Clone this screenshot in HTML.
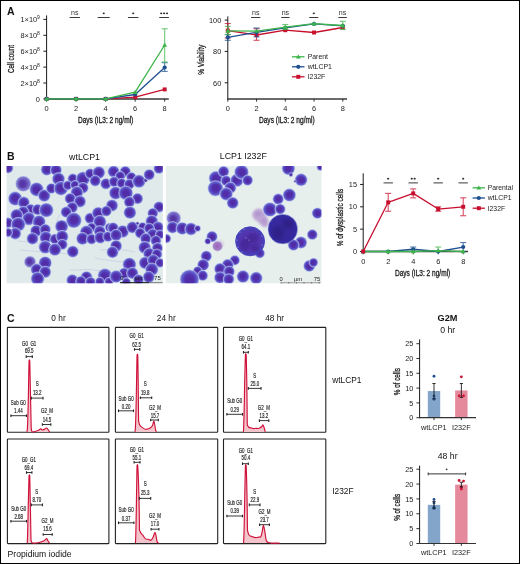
<!DOCTYPE html>
<html><head><meta charset="utf-8"><style>
html,body{margin:0;padding:0;background:#fff;}
body{width:520px;height:564px;overflow:hidden;}
svg{display:block;font-family:"Liberation Sans", sans-serif;will-change:transform;}
</style></head><body>
<svg width="520" height="564" viewBox="0 0 520 564">
<rect x="0" y="0" width="520" height="564" fill="#fff"/>
<text x="6.90" y="14.60" font-size="10.5" text-anchor="start" fill="#111" font-weight="bold" >A</text>
<line x1="46.60" y1="15.40" x2="46.60" y2="99.50" stroke="#1a1a1a" stroke-width="1.0" />
<line x1="43.40" y1="98.90" x2="46.60" y2="98.90" stroke="#1a1a1a" stroke-width="1" />
<text x="39.90" y="101.60" font-size="7.4" text-anchor="end" fill="#222" >0</text>
<line x1="43.40" y1="83.00" x2="46.60" y2="83.00" stroke="#1a1a1a" stroke-width="1" />
<text x="39.9" y="85.70" font-size="7.4" text-anchor="end" fill="#222">2×10<tspan dy="-3.2" font-size="5">8</tspan></text>
<line x1="43.40" y1="67.10" x2="46.60" y2="67.10" stroke="#1a1a1a" stroke-width="1" />
<text x="39.9" y="69.80" font-size="7.4" text-anchor="end" fill="#222">4×10<tspan dy="-3.2" font-size="5">8</tspan></text>
<line x1="43.40" y1="51.20" x2="46.60" y2="51.20" stroke="#1a1a1a" stroke-width="1" />
<text x="39.9" y="53.90" font-size="7.4" text-anchor="end" fill="#222">6×10<tspan dy="-3.2" font-size="5">8</tspan></text>
<line x1="43.40" y1="35.30" x2="46.60" y2="35.30" stroke="#1a1a1a" stroke-width="1" />
<text x="39.9" y="38.00" font-size="7.4" text-anchor="end" fill="#222">8×10<tspan dy="-3.2" font-size="5">8</tspan></text>
<line x1="43.40" y1="19.40" x2="46.60" y2="19.40" stroke="#1a1a1a" stroke-width="1" />
<text x="39.9" y="22.10" font-size="7.4" text-anchor="end" fill="#222">1×10<tspan dy="-3.2" font-size="5">9</tspan></text>
<line x1="46.10" y1="98.90" x2="168.80" y2="98.90" stroke="#3a3a3a" stroke-width="1.5" />
<line x1="46.60" y1="98.90" x2="46.60" y2="101.70" stroke="#222" stroke-width="0.9" />
<text x="46.60" y="110.60" font-size="7.4" text-anchor="middle" fill="#222" >0</text>
<line x1="76.12" y1="98.90" x2="76.12" y2="101.70" stroke="#222" stroke-width="0.9" />
<text x="76.12" y="110.60" font-size="7.4" text-anchor="middle" fill="#222" >2</text>
<line x1="105.64" y1="98.90" x2="105.64" y2="101.70" stroke="#222" stroke-width="0.9" />
<text x="105.64" y="110.60" font-size="7.4" text-anchor="middle" fill="#222" >4</text>
<line x1="135.16" y1="98.90" x2="135.16" y2="101.70" stroke="#222" stroke-width="0.9" />
<text x="135.16" y="110.60" font-size="7.4" text-anchor="middle" fill="#222" >6</text>
<line x1="164.68" y1="98.90" x2="164.68" y2="101.70" stroke="#222" stroke-width="0.9" />
<text x="164.68" y="110.60" font-size="7.4" text-anchor="middle" fill="#222" >8</text>
<text x="105.60" y="123.20" font-size="8.6" text-anchor="middle" fill="#1a1a1a" textLength="55.4" lengthAdjust="spacingAndGlyphs" stroke="#1a1a1a" stroke-width="0.3">Days (IL3: 2 ng/ml)</text>
<text x="13.8" y="59" font-size="9.2" text-anchor="middle" fill="#1a1a1a" stroke="#1a1a1a" stroke-width="0.3" textLength="28" lengthAdjust="spacingAndGlyphs" transform="rotate(-90 13.8 59)">Cell count</text>
<polyline points="46.60,98.90 76.12,98.90 105.64,98.90 135.16,97.20 164.68,89.40" fill="none" stroke="#c8102e" stroke-width="1.3" stroke-linejoin="round"/>
<rect x="44.62" y="96.92" width="3.96" height="3.96" fill="#c8102e"/>
<rect x="74.14" y="96.92" width="3.96" height="3.96" fill="#c8102e"/>
<rect x="103.66" y="96.92" width="3.96" height="3.96" fill="#c8102e"/>
<rect x="133.18" y="95.22" width="3.96" height="3.96" fill="#c8102e"/>
<rect x="162.70" y="87.42" width="3.96" height="3.96" fill="#c8102e"/>
<polyline points="46.60,98.90 76.12,98.90 105.64,98.90 135.16,94.50 164.68,67.50" fill="none" stroke="#1d4f91" stroke-width="1.3" stroke-linejoin="round"/>
<g opacity="0.75">
<line x1="164.68" y1="62.70" x2="164.68" y2="71.40" stroke="#1d4f91" stroke-width="1.1" />
<line x1="161.68" y1="62.70" x2="167.68" y2="62.70" stroke="#1d4f91" stroke-width="1.1" />
<line x1="161.68" y1="71.40" x2="167.68" y2="71.40" stroke="#1d4f91" stroke-width="1.1" />
</g>
<circle cx="46.60" cy="98.90" r="2.09" fill="#1d4f91"/>
<circle cx="76.12" cy="98.90" r="2.09" fill="#1d4f91"/>
<circle cx="105.64" cy="98.90" r="2.09" fill="#1d4f91"/>
<circle cx="135.16" cy="94.50" r="2.09" fill="#1d4f91"/>
<circle cx="164.68" cy="67.50" r="2.09" fill="#1d4f91"/>
<polyline points="46.60,98.90 76.12,98.90 105.64,98.90 135.16,92.20 164.68,45.00" fill="none" stroke="#3db54a" stroke-width="1.3" stroke-linejoin="round"/>
<g opacity="0.75">
<line x1="164.68" y1="28.80" x2="164.68" y2="62.00" stroke="#3db54a" stroke-width="1.1" />
<line x1="161.68" y1="28.80" x2="167.68" y2="28.80" stroke="#3db54a" stroke-width="1.1" />
<line x1="161.68" y1="62.00" x2="167.68" y2="62.00" stroke="#3db54a" stroke-width="1.1" />
</g>
<path d="M46.60 96.48L49.02 100.66L44.18 100.66Z" fill="#3db54a"/>
<path d="M76.12 96.48L78.54 100.66L73.70 100.66Z" fill="#3db54a"/>
<path d="M105.64 96.48L108.06 100.66L103.22 100.66Z" fill="#3db54a"/>
<path d="M135.16 89.78L137.58 93.96L132.74 93.96Z" fill="#3db54a"/>
<path d="M164.68 42.58L167.10 46.76L162.26 46.76Z" fill="#3db54a"/>
<line x1="69.60" y1="17.50" x2="79.90" y2="17.50" stroke="#3a3a3a" stroke-width="1" />
<text x="74.75" y="14.50" font-size="7.1" text-anchor="middle" fill="#333" >ns</text>
<line x1="97.70" y1="17.50" x2="109.70" y2="17.50" stroke="#3a3a3a" stroke-width="1" />
<ellipse cx="103.70" cy="13.30" rx="1.1" ry="0.85" fill="#2a2a2a"/>
<line x1="127.95" y1="17.50" x2="138.45" y2="17.50" stroke="#3a3a3a" stroke-width="1" />
<ellipse cx="133.20" cy="13.30" rx="1.1" ry="0.85" fill="#2a2a2a"/>
<line x1="159.25" y1="17.50" x2="168.95" y2="17.50" stroke="#3a3a3a" stroke-width="1" />
<ellipse cx="161.20" cy="13.30" rx="1.1" ry="0.85" fill="#2a2a2a"/>
<ellipse cx="164.10" cy="13.30" rx="1.1" ry="0.85" fill="#2a2a2a"/>
<ellipse cx="167.00" cy="13.30" rx="1.1" ry="0.85" fill="#2a2a2a"/>
<line x1="227.80" y1="16.40" x2="227.80" y2="99.50" stroke="#1a1a1a" stroke-width="1.0" />
<line x1="224.70" y1="20.10" x2="227.80" y2="20.10" stroke="#1a1a1a" stroke-width="1" />
<text x="221.30" y="22.80" font-size="7.4" text-anchor="end" fill="#222" >100</text>
<line x1="224.70" y1="51.45" x2="227.80" y2="51.45" stroke="#1a1a1a" stroke-width="1" />
<text x="221.30" y="54.15" font-size="7.4" text-anchor="end" fill="#222" >80</text>
<line x1="224.70" y1="82.80" x2="227.80" y2="82.80" stroke="#1a1a1a" stroke-width="1" />
<text x="221.30" y="85.50" font-size="7.4" text-anchor="end" fill="#222" >60</text>
<line x1="227.30" y1="98.90" x2="347.00" y2="98.90" stroke="#3a3a3a" stroke-width="1.5" />
<line x1="227.80" y1="98.90" x2="227.80" y2="101.70" stroke="#222" stroke-width="0.9" />
<text x="227.80" y="110.60" font-size="7.4" text-anchor="middle" fill="#222" >0</text>
<line x1="256.55" y1="98.90" x2="256.55" y2="101.70" stroke="#222" stroke-width="0.9" />
<text x="256.55" y="110.60" font-size="7.4" text-anchor="middle" fill="#222" >2</text>
<line x1="285.30" y1="98.90" x2="285.30" y2="101.70" stroke="#222" stroke-width="0.9" />
<text x="285.30" y="110.60" font-size="7.4" text-anchor="middle" fill="#222" >4</text>
<line x1="314.05" y1="98.90" x2="314.05" y2="101.70" stroke="#222" stroke-width="0.9" />
<text x="314.05" y="110.60" font-size="7.4" text-anchor="middle" fill="#222" >6</text>
<line x1="342.80" y1="98.90" x2="342.80" y2="101.70" stroke="#222" stroke-width="0.9" />
<text x="342.80" y="110.60" font-size="7.4" text-anchor="middle" fill="#222" >8</text>
<text x="286.80" y="123.20" font-size="8.6" text-anchor="middle" fill="#1a1a1a" textLength="55.7" lengthAdjust="spacingAndGlyphs" stroke="#1a1a1a" stroke-width="0.3">Days (IL3: 2 ng/ml)</text>
<text x="203.6" y="59.7" font-size="9.2" text-anchor="middle" fill="#1a1a1a" stroke="#1a1a1a" stroke-width="0.3" textLength="30" lengthAdjust="spacingAndGlyphs" transform="rotate(-90 203.6 59.7)">% Viability</text>
<polyline points="227.80,30.60 256.55,35.00 285.30,30.20 314.05,32.50 342.80,27.50" fill="none" stroke="#c8102e" stroke-width="1.3" stroke-linejoin="round"/>
<g opacity="0.75">
<line x1="227.80" y1="23.50" x2="227.80" y2="38.00" stroke="#c8102e" stroke-width="1.1" />
<line x1="224.80" y1="23.50" x2="230.80" y2="23.50" stroke="#c8102e" stroke-width="1.1" />
<line x1="224.80" y1="38.00" x2="230.80" y2="38.00" stroke="#c8102e" stroke-width="1.1" />
</g>
<g opacity="0.75">
<line x1="256.55" y1="28.80" x2="256.55" y2="40.30" stroke="#c8102e" stroke-width="1.1" />
<line x1="253.55" y1="28.80" x2="259.55" y2="28.80" stroke="#c8102e" stroke-width="1.1" />
<line x1="253.55" y1="40.30" x2="259.55" y2="40.30" stroke="#c8102e" stroke-width="1.1" />
</g>
<rect x="225.82" y="28.62" width="3.96" height="3.96" fill="#c8102e"/>
<rect x="254.57" y="33.02" width="3.96" height="3.96" fill="#c8102e"/>
<rect x="283.32" y="28.22" width="3.96" height="3.96" fill="#c8102e"/>
<rect x="312.07" y="30.52" width="3.96" height="3.96" fill="#c8102e"/>
<rect x="340.82" y="25.52" width="3.96" height="3.96" fill="#c8102e"/>
<polyline points="227.80,37.30 256.55,32.30 285.30,27.80 314.05,23.90 342.80,25.80" fill="none" stroke="#1d4f91" stroke-width="1.3" stroke-linejoin="round"/>
<g opacity="0.75">
<line x1="227.80" y1="34.60" x2="227.80" y2="40.30" stroke="#1d4f91" stroke-width="1.1" />
<line x1="224.80" y1="34.60" x2="230.80" y2="34.60" stroke="#1d4f91" stroke-width="1.1" />
<line x1="224.80" y1="40.30" x2="230.80" y2="40.30" stroke="#1d4f91" stroke-width="1.1" />
</g>
<g opacity="0.75">
<line x1="256.55" y1="28.00" x2="256.55" y2="36.90" stroke="#1d4f91" stroke-width="1.1" />
<line x1="253.55" y1="28.00" x2="259.55" y2="28.00" stroke="#1d4f91" stroke-width="1.1" />
<line x1="253.55" y1="36.90" x2="259.55" y2="36.90" stroke="#1d4f91" stroke-width="1.1" />
</g>
<circle cx="227.80" cy="37.30" r="2.09" fill="#1d4f91"/>
<circle cx="256.55" cy="32.30" r="2.09" fill="#1d4f91"/>
<circle cx="285.30" cy="27.80" r="2.09" fill="#1d4f91"/>
<circle cx="314.05" cy="23.90" r="2.09" fill="#1d4f91"/>
<circle cx="342.80" cy="25.80" r="2.09" fill="#1d4f91"/>
<polyline points="227.80,30.90 256.55,31.10 285.30,27.20 314.05,23.70 342.80,25.50" fill="none" stroke="#3db54a" stroke-width="1.3" stroke-linejoin="round"/>
<g opacity="0.75">
<line x1="227.80" y1="26.40" x2="227.80" y2="34.40" stroke="#3db54a" stroke-width="1.1" />
<line x1="224.80" y1="26.40" x2="230.80" y2="26.40" stroke="#3db54a" stroke-width="1.1" />
<line x1="224.80" y1="34.40" x2="230.80" y2="34.40" stroke="#3db54a" stroke-width="1.1" />
</g>
<g opacity="0.75">
<line x1="285.30" y1="24.50" x2="285.30" y2="29.50" stroke="#3db54a" stroke-width="1.1" />
<line x1="282.30" y1="24.50" x2="288.30" y2="24.50" stroke="#3db54a" stroke-width="1.1" />
<line x1="282.30" y1="29.50" x2="288.30" y2="29.50" stroke="#3db54a" stroke-width="1.1" />
</g>
<g opacity="0.75">
<line x1="342.80" y1="21.30" x2="342.80" y2="29.50" stroke="#3db54a" stroke-width="1.1" />
<line x1="339.80" y1="21.30" x2="345.80" y2="21.30" stroke="#3db54a" stroke-width="1.1" />
<line x1="339.80" y1="29.50" x2="345.80" y2="29.50" stroke="#3db54a" stroke-width="1.1" />
</g>
<path d="M227.80 28.48L230.22 32.66L225.38 32.66Z" fill="#3db54a"/>
<path d="M256.55 28.68L258.97 32.86L254.13 32.86Z" fill="#3db54a"/>
<path d="M285.30 24.78L287.72 28.96L282.88 28.96Z" fill="#3db54a"/>
<path d="M314.05 21.28L316.47 25.46L311.63 25.46Z" fill="#3db54a"/>
<path d="M342.80 23.08L345.22 27.26L340.38 27.26Z" fill="#3db54a"/>
<line x1="251.05" y1="17.50" x2="260.35" y2="17.50" stroke="#3a3a3a" stroke-width="1" />
<text x="255.70" y="14.50" font-size="7.1" text-anchor="middle" fill="#333" >ns</text>
<line x1="281.25" y1="17.50" x2="289.55" y2="17.50" stroke="#3a3a3a" stroke-width="1" />
<text x="285.40" y="14.50" font-size="7.1" text-anchor="middle" fill="#333" >ns</text>
<line x1="309.30" y1="17.50" x2="318.30" y2="17.50" stroke="#3a3a3a" stroke-width="1" />
<ellipse cx="313.80" cy="13.30" rx="1.1" ry="0.85" fill="#2a2a2a"/>
<line x1="338.35" y1="17.50" x2="346.85" y2="17.50" stroke="#3a3a3a" stroke-width="1" />
<text x="342.60" y="14.50" font-size="7.1" text-anchor="middle" fill="#333" >ns</text>
<line x1="292.00" y1="56.80" x2="304.50" y2="56.80" stroke="#3db54a" stroke-width="1.3" />
<path d="M298.30 54.38L300.72 58.56L295.88 58.56Z" fill="#3db54a"/>
<text x="307.70" y="59.10" font-size="6.9" text-anchor="start" fill="#222" >Parent</text>
<line x1="292.00" y1="66.80" x2="304.50" y2="66.80" stroke="#1d4f91" stroke-width="1.3" />
<circle cx="298.30" cy="66.80" r="2.09" fill="#1d4f91"/>
<text x="307.70" y="69.10" font-size="6.9" text-anchor="start" fill="#222" >wtLCP1</text>
<line x1="292.00" y1="76.80" x2="304.50" y2="76.80" stroke="#c8102e" stroke-width="1.3" />
<rect x="296.32" y="74.82" width="3.96" height="3.96" fill="#c8102e"/>
<text x="307.70" y="79.10" font-size="6.9" text-anchor="start" fill="#222" >I232F</text>
<text x="7.00" y="160.40" font-size="10.5" text-anchor="start" fill="#111" font-weight="bold" >B</text>
<text x="84.50" y="160.10" font-size="8.8" text-anchor="middle" fill="#111" >wtLCP1</text>
<text x="243.30" y="159.20" font-size="8.8" text-anchor="middle" fill="#111" >LCP1 I232F</text>
<defs><radialGradient id="gc"><stop offset="0" stop-color="#5630b2"/><stop offset="0.5" stop-color="#5534b2"/><stop offset="0.76" stop-color="#5a56c8"/><stop offset="1" stop-color="#8a92e0"/></radialGradient><radialGradient id="gl"><stop offset="0" stop-color="#5a3cac"/><stop offset="0.45" stop-color="#6448b6"/><stop offset="0.8" stop-color="#7a74cc"/><stop offset="1" stop-color="#9a9ade"/></radialGradient><radialGradient id="gp"><stop offset="0" stop-color="#9a62b8"/><stop offset="1" stop-color="#a888c8"/></radialGradient><radialGradient id="gd"><stop offset="0" stop-color="#4a34a8"/><stop offset="1" stop-color="#5a4ab8"/></radialGradient><radialGradient id="gbA"><stop offset="0" stop-color="#5030a6"/><stop offset="0.6" stop-color="#5434ae"/><stop offset="0.88" stop-color="#4a3cb4"/><stop offset="1" stop-color="#4848c4"/></radialGradient><radialGradient id="gbB"><stop offset="0" stop-color="#38289a"/><stop offset="0.85" stop-color="#36289e"/><stop offset="1" stop-color="#3434ac"/></radialGradient><radialGradient id="gsm"><stop offset="0" stop-color="#b288c8" stop-opacity="0.95"/><stop offset="0.6" stop-color="#c4a4d4" stop-opacity="0.7"/><stop offset="1" stop-color="#d8c8e0" stop-opacity="0"/></radialGradient><filter id="blr" x="-30%" y="-30%" width="160%" height="160%"><feGaussianBlur stdDeviation="1.2"/></filter><clipPath id="c1"><rect x="6.6" y="166" width="156.3" height="117.2"/></clipPath><clipPath id="c2"><rect x="165.8" y="166" width="155.7" height="117.2"/></clipPath></defs>
<rect x="6.6" y="166" width="156.3" height="117.2" fill="#e0eaea"/>
<g clip-path="url(#c1)">
<path d="M18 241 Q40 243 60 246 M20 250 Q45 252 70 254 M60 214 Q55 222 57 230 M100 250 Q120 248 135 252 M95 258 Q115 262 130 262 M70 270 Q90 268 108 272" stroke="#b8bfe0" stroke-width="0.5" fill="none"/>
<circle cx="8" cy="168" r="5.25" fill="url(#gc)" stroke="#d4dcef" stroke-width="0.5"/>
<ellipse cx="8.88" cy="168.34" rx="2.73" ry="2.36" transform="rotate(11 8.88 168.34)" fill="#4a2496" opacity="0.35"/>
<circle cx="46.8" cy="169.6" r="5.88" fill="url(#gc)" stroke="#d4dcef" stroke-width="0.5"/>
<ellipse cx="47.86" cy="169.60" rx="3.06" ry="2.64" transform="rotate(0 47.86 169.60)" fill="#4a2496" opacity="0.35"/>
<circle cx="56" cy="170" r="5.75" fill="url(#gc)" stroke="#d4dcef" stroke-width="0.5"/>
<ellipse cx="57.03" cy="170.00" rx="2.99" ry="2.59" transform="rotate(0 57.03 170.00)" fill="#4a2496" opacity="0.35"/>
<circle cx="58.5" cy="179" r="6.38" fill="url(#gc)" stroke="#d4dcef" stroke-width="0.5"/>
<ellipse cx="58.19" cy="177.90" rx="3.31" ry="2.87" transform="rotate(127 58.19 177.90)" fill="#4a2496" opacity="0.35"/>
<circle cx="23.3" cy="183.8" r="7.75" fill="url(#gl)" stroke="#d4dcef" stroke-width="0.5"/>
<ellipse cx="21.93" cy="184.06" rx="4.03" ry="3.49" transform="rotate(85 21.93 184.06)" fill="#4a2496" opacity="0.35"/>
<circle cx="36.6" cy="189.4" r="7.00" fill="url(#gc)" stroke="#d4dcef" stroke-width="0.5"/>
<ellipse cx="36.72" cy="190.65" rx="3.64" ry="3.15" transform="rotate(42 36.72 190.65)" fill="#4a2496" opacity="0.35"/>
<circle cx="44.2" cy="195.6" r="6.12" fill="url(#gc)" stroke="#d4dcef" stroke-width="0.5"/>
<ellipse cx="43.54" cy="194.72" rx="3.19" ry="2.76" transform="rotate(116 43.54 194.72)" fill="#4a2496" opacity="0.35"/>
<circle cx="51.4" cy="188.4" r="5.25" fill="url(#gc)" stroke="#d4dcef" stroke-width="0.5"/>
<ellipse cx="50.60" cy="188.90" rx="2.73" ry="2.36" transform="rotate(74 50.60 188.90)" fill="#4a2496" opacity="0.35"/>
<circle cx="15.2" cy="198.6" r="7.00" fill="url(#gc)" stroke="#d4dcef" stroke-width="0.5"/>
<ellipse cx="14.86" cy="197.39" rx="3.64" ry="3.15" transform="rotate(127 14.86 197.39)" fill="#4a2496" opacity="0.35"/>
<circle cx="23.8" cy="202.5" r="5.88" fill="url(#gc)" stroke="#d4dcef" stroke-width="0.5"/>
<ellipse cx="24.58" cy="203.21" rx="3.06" ry="2.64" transform="rotate(21 24.58 203.21)" fill="#4a2496" opacity="0.35"/>
<circle cx="61" cy="188.4" r="7.00" fill="url(#gc)" stroke="#d4dcef" stroke-width="0.5"/>
<ellipse cx="59.76" cy="188.17" rx="3.64" ry="3.15" transform="rotate(95 59.76 188.17)" fill="#4a2496" opacity="0.35"/>
<circle cx="72.8" cy="178.7" r="5.12" fill="url(#gc)" stroke="#d4dcef" stroke-width="0.5"/>
<ellipse cx="73.21" cy="177.87" rx="2.67" ry="2.31" transform="rotate(148 73.21 177.87)" fill="#4a2496" opacity="0.35"/>
<circle cx="83" cy="178.7" r="7.00" fill="url(#gc)" stroke="#d4dcef" stroke-width="0.5"/>
<ellipse cx="83.56" cy="179.83" rx="3.64" ry="3.15" transform="rotate(32 83.56 179.83)" fill="#4a2496" opacity="0.35"/>
<circle cx="90.1" cy="173.6" r="5.12" fill="url(#gc)" stroke="#d4dcef" stroke-width="0.5"/>
<ellipse cx="89.85" cy="174.49" rx="2.67" ry="2.31" transform="rotate(53 89.85 174.49)" fill="#4a2496" opacity="0.35"/>
<circle cx="98.8" cy="172.6" r="6.25" fill="url(#gc)" stroke="#d4dcef" stroke-width="0.5"/>
<ellipse cx="99.63" cy="171.84" rx="3.25" ry="2.81" transform="rotate(159 99.63 171.84)" fill="#4a2496" opacity="0.35"/>
<circle cx="95.2" cy="180.8" r="5.50" fill="url(#gc)" stroke="#d4dcef" stroke-width="0.5"/>
<ellipse cx="95.64" cy="179.91" rx="2.86" ry="2.48" transform="rotate(148 95.64 179.91)" fill="#4a2496" opacity="0.35"/>
<circle cx="105.9" cy="183.8" r="5.50" fill="url(#gc)" stroke="#d4dcef" stroke-width="0.5"/>
<ellipse cx="106.82" cy="183.44" rx="2.86" ry="2.48" transform="rotate(169 106.82 183.44)" fill="#4a2496" opacity="0.35"/>
<circle cx="67.7" cy="185.4" r="4.75" fill="url(#gc)" stroke="#d4dcef" stroke-width="0.5"/>
<ellipse cx="68.08" cy="184.63" rx="2.47" ry="2.14" transform="rotate(148 68.08 184.63)" fill="#4a2496" opacity="0.35"/>
<circle cx="74.8" cy="184.9" r="4.38" fill="url(#gc)" stroke="#d4dcef" stroke-width="0.5"/>
<ellipse cx="75.15" cy="184.20" rx="2.27" ry="1.97" transform="rotate(148 75.15 184.20)" fill="#4a2496" opacity="0.35"/>
<circle cx="83" cy="187.9" r="5.50" fill="url(#gc)" stroke="#d4dcef" stroke-width="0.5"/>
<ellipse cx="83.73" cy="187.23" rx="2.86" ry="2.48" transform="rotate(159 83.73 187.23)" fill="#4a2496" opacity="0.35"/>
<circle cx="76.9" cy="192.5" r="6.25" fill="url(#gc)" stroke="#d4dcef" stroke-width="0.5"/>
<ellipse cx="77.73" cy="193.26" rx="3.25" ry="2.81" transform="rotate(21 77.73 193.26)" fill="#4a2496" opacity="0.35"/>
<circle cx="70.2" cy="198.6" r="5.50" fill="url(#gc)" stroke="#d4dcef" stroke-width="0.5"/>
<ellipse cx="69.60" cy="199.39" rx="2.86" ry="2.48" transform="rotate(64 69.60 199.39)" fill="#4a2496" opacity="0.35"/>
<circle cx="80" cy="201.5" r="5.88" fill="url(#gc)" stroke="#d4dcef" stroke-width="0.5"/>
<ellipse cx="80.99" cy="201.88" rx="3.06" ry="2.64" transform="rotate(11 80.99 201.88)" fill="#4a2496" opacity="0.35"/>
<circle cx="113.6" cy="171.6" r="5.88" fill="url(#gc)" stroke="#d4dcef" stroke-width="0.5"/>
<ellipse cx="114.59" cy="171.98" rx="3.06" ry="2.64" transform="rotate(11 114.59 171.98)" fill="#4a2496" opacity="0.35"/>
<circle cx="125.3" cy="171.6" r="5.50" fill="url(#gc)" stroke="#d4dcef" stroke-width="0.5"/>
<ellipse cx="126.22" cy="171.96" rx="2.86" ry="2.48" transform="rotate(11 126.22 171.96)" fill="#4a2496" opacity="0.35"/>
<circle cx="120.2" cy="176.2" r="5.00" fill="url(#gc)" stroke="#d4dcef" stroke-width="0.5"/>
<ellipse cx="119.95" cy="175.33" rx="2.60" ry="2.25" transform="rotate(127 119.95 175.33)" fill="#4a2496" opacity="0.35"/>
<circle cx="114.1" cy="181.8" r="5.25" fill="url(#gc)" stroke="#d4dcef" stroke-width="0.5"/>
<ellipse cx="114.80" cy="182.44" rx="2.73" ry="2.36" transform="rotate(21 114.80 182.44)" fill="#4a2496" opacity="0.35"/>
<circle cx="121.7" cy="183.3" r="5.00" fill="url(#gc)" stroke="#d4dcef" stroke-width="0.5"/>
<ellipse cx="121.16" cy="182.58" rx="2.60" ry="2.25" transform="rotate(116 121.16 182.58)" fill="#4a2496" opacity="0.35"/>
<circle cx="131.4" cy="177.2" r="5.00" fill="url(#gc)" stroke="#d4dcef" stroke-width="0.5"/>
<ellipse cx="131.15" cy="176.33" rx="2.60" ry="2.25" transform="rotate(127 131.15 176.33)" fill="#4a2496" opacity="0.35"/>
<circle cx="129.4" cy="184.3" r="5.25" fill="url(#gc)" stroke="#d4dcef" stroke-width="0.5"/>
<ellipse cx="130.10" cy="184.94" rx="2.73" ry="2.36" transform="rotate(21 130.10 184.94)" fill="#4a2496" opacity="0.35"/>
<circle cx="139" cy="181.3" r="6.50" fill="url(#gc)" stroke="#d4dcef" stroke-width="0.5"/>
<ellipse cx="138.68" cy="180.17" rx="3.38" ry="2.93" transform="rotate(127 138.68 180.17)" fill="#4a2496" opacity="0.35"/>
<circle cx="145.7" cy="180.3" r="2.00" fill="url(#gd)" stroke="#d4dcef" stroke-width="0.5"/>
<circle cx="149.2" cy="174.7" r="5.50" fill="url(#gc)" stroke="#d4dcef" stroke-width="0.5"/>
<ellipse cx="149.93" cy="174.03" rx="2.86" ry="2.48" transform="rotate(159 149.93 174.03)" fill="#4a2496" opacity="0.35"/>
<circle cx="158.9" cy="168.5" r="5.25" fill="url(#gc)" stroke="#d4dcef" stroke-width="0.5"/>
<ellipse cx="159.78" cy="168.16" rx="2.73" ry="2.36" transform="rotate(169 159.78 168.16)" fill="#4a2496" opacity="0.35"/>
<circle cx="115.6" cy="193" r="6.50" fill="url(#gc)" stroke="#d4dcef" stroke-width="0.5"/>
<ellipse cx="116.12" cy="191.95" rx="3.38" ry="2.93" transform="rotate(148 116.12 191.95)" fill="#4a2496" opacity="0.35"/>
<circle cx="125.8" cy="193" r="7.12" fill="url(#gc)" stroke="#d4dcef" stroke-width="0.5"/>
<ellipse cx="126.37" cy="194.15" rx="3.71" ry="3.21" transform="rotate(32 126.37 194.15)" fill="#4a2496" opacity="0.35"/>
<circle cx="137.5" cy="198.6" r="5.50" fill="url(#gc)" stroke="#d4dcef" stroke-width="0.5"/>
<ellipse cx="137.59" cy="199.59" rx="2.86" ry="2.48" transform="rotate(42 137.59 199.59)" fill="#4a2496" opacity="0.35"/>
<circle cx="129.4" cy="202" r="5.50" fill="url(#gc)" stroke="#d4dcef" stroke-width="0.5"/>
<ellipse cx="128.80" cy="202.79" rx="2.86" ry="2.48" transform="rotate(64 128.80 202.79)" fill="#4a2496" opacity="0.35"/>
<circle cx="112" cy="205.5" r="6.00" fill="url(#gc)" stroke="#d4dcef" stroke-width="0.5"/>
<ellipse cx="110.94" cy="205.30" rx="3.12" ry="2.70" transform="rotate(95 110.94 205.30)" fill="#4a2496" opacity="0.35"/>
<circle cx="159" cy="207" r="5.50" fill="url(#gc)" stroke="#d4dcef" stroke-width="0.5"/>
<ellipse cx="159.99" cy="207.00" rx="2.86" ry="2.48" transform="rotate(0 159.99 207.00)" fill="#4a2496" opacity="0.35"/>
<circle cx="30.5" cy="209.6" r="5.50" fill="url(#gc)" stroke="#d4dcef" stroke-width="0.5"/>
<ellipse cx="30.23" cy="210.55" rx="2.86" ry="2.48" transform="rotate(53 30.23 210.55)" fill="#4a2496" opacity="0.35"/>
<circle cx="37.6" cy="209.6" r="5.50" fill="url(#gc)" stroke="#d4dcef" stroke-width="0.5"/>
<ellipse cx="37.00" cy="210.39" rx="2.86" ry="2.48" transform="rotate(64 37.00 210.39)" fill="#4a2496" opacity="0.35"/>
<circle cx="46.3" cy="210.1" r="7.12" fill="url(#gc)" stroke="#d4dcef" stroke-width="0.5"/>
<ellipse cx="46.87" cy="211.25" rx="3.71" ry="3.21" transform="rotate(32 46.87 211.25)" fill="#4a2496" opacity="0.35"/>
<circle cx="23.3" cy="212.1" r="5.88" fill="url(#gc)" stroke="#d4dcef" stroke-width="0.5"/>
<ellipse cx="22.66" cy="211.26" rx="3.06" ry="2.64" transform="rotate(116 22.66 211.26)" fill="#4a2496" opacity="0.35"/>
<circle cx="16.7" cy="215.2" r="6.25" fill="url(#gc)" stroke="#d4dcef" stroke-width="0.5"/>
<ellipse cx="15.74" cy="215.79" rx="3.25" ry="2.81" transform="rotate(74 15.74 215.79)" fill="#4a2496" opacity="0.35"/>
<circle cx="28.9" cy="218.8" r="6.50" fill="url(#gc)" stroke="#d4dcef" stroke-width="0.5"/>
<ellipse cx="28.58" cy="219.93" rx="3.38" ry="2.93" transform="rotate(53 28.58 219.93)" fill="#4a2496" opacity="0.35"/>
<circle cx="39.1" cy="221.8" r="6.50" fill="url(#gc)" stroke="#d4dcef" stroke-width="0.5"/>
<ellipse cx="39.21" cy="222.97" rx="3.38" ry="2.93" transform="rotate(42 39.21 222.97)" fill="#4a2496" opacity="0.35"/>
<circle cx="8" cy="222.8" r="5.25" fill="url(#gc)" stroke="#d4dcef" stroke-width="0.5"/>
<ellipse cx="8.88" cy="223.14" rx="2.73" ry="2.36" transform="rotate(11 8.88 223.14)" fill="#4a2496" opacity="0.35"/>
<circle cx="18.2" cy="224.4" r="7.12" fill="url(#gc)" stroke="#d4dcef" stroke-width="0.5"/>
<ellipse cx="17.85" cy="223.17" rx="3.71" ry="3.21" transform="rotate(127 17.85 223.17)" fill="#4a2496" opacity="0.35"/>
<circle cx="36.1" cy="231" r="5.88" fill="url(#gc)" stroke="#d4dcef" stroke-width="0.5"/>
<ellipse cx="35.20" cy="230.44" rx="3.06" ry="2.64" transform="rotate(106 35.20 230.44)" fill="#4a2496" opacity="0.35"/>
<circle cx="45.2" cy="229.5" r="5.50" fill="url(#gc)" stroke="#d4dcef" stroke-width="0.5"/>
<ellipse cx="45.29" cy="230.49" rx="2.86" ry="2.48" transform="rotate(42 45.29 230.49)" fill="#4a2496" opacity="0.35"/>
<circle cx="15.2" cy="233.5" r="5.88" fill="url(#gc)" stroke="#d4dcef" stroke-width="0.5"/>
<ellipse cx="16.19" cy="233.88" rx="3.06" ry="2.64" transform="rotate(11 16.19 233.88)" fill="#4a2496" opacity="0.35"/>
<circle cx="8" cy="232.5" r="4.50" fill="url(#gc)" stroke="#d4dcef" stroke-width="0.5"/>
<ellipse cx="8.36" cy="231.77" rx="2.34" ry="2.02" transform="rotate(148 8.36 231.77)" fill="#4a2496" opacity="0.35"/>
<circle cx="32.5" cy="238.6" r="5.88" fill="url(#gc)" stroke="#d4dcef" stroke-width="0.5"/>
<ellipse cx="31.60" cy="239.16" rx="3.06" ry="2.64" transform="rotate(74 31.60 239.16)" fill="#4a2496" opacity="0.35"/>
<circle cx="45.8" cy="237.6" r="6.25" fill="url(#gc)" stroke="#d4dcef" stroke-width="0.5"/>
<ellipse cx="46.85" cy="237.19" rx="3.25" ry="2.81" transform="rotate(169 46.85 237.19)" fill="#4a2496" opacity="0.35"/>
<circle cx="54.9" cy="239.1" r="5.25" fill="url(#gc)" stroke="#d4dcef" stroke-width="0.5"/>
<ellipse cx="55.60" cy="239.74" rx="2.73" ry="2.36" transform="rotate(21 55.60 239.74)" fill="#4a2496" opacity="0.35"/>
<circle cx="72.3" cy="207.5" r="5.50" fill="url(#gc)" stroke="#d4dcef" stroke-width="0.5"/>
<ellipse cx="73.03" cy="206.83" rx="2.86" ry="2.48" transform="rotate(159 73.03 206.83)" fill="#4a2496" opacity="0.35"/>
<circle cx="66.2" cy="212.1" r="5.50" fill="url(#gc)" stroke="#d4dcef" stroke-width="0.5"/>
<ellipse cx="67.12" cy="212.46" rx="2.86" ry="2.48" transform="rotate(11 67.12 212.46)" fill="#4a2496" opacity="0.35"/>
<circle cx="73.8" cy="220.3" r="7.75" fill="url(#gc)" stroke="#d4dcef" stroke-width="0.5"/>
<ellipse cx="74.42" cy="219.05" rx="4.03" ry="3.49" transform="rotate(148 74.42 219.05)" fill="#4a2496" opacity="0.35"/>
<circle cx="61.6" cy="226.4" r="6.50" fill="url(#gc)" stroke="#d4dcef" stroke-width="0.5"/>
<ellipse cx="61.28" cy="225.27" rx="3.38" ry="2.93" transform="rotate(127 61.28 225.27)" fill="#4a2496" opacity="0.35"/>
<circle cx="62.1" cy="236.6" r="6.25" fill="url(#gc)" stroke="#d4dcef" stroke-width="0.5"/>
<ellipse cx="62.20" cy="235.48" rx="3.25" ry="2.81" transform="rotate(138 62.20 235.48)" fill="#4a2496" opacity="0.35"/>
<circle cx="62.2" cy="244.5" r="5.25" fill="url(#gc)" stroke="#d4dcef" stroke-width="0.5"/>
<ellipse cx="61.94" cy="245.41" rx="2.73" ry="2.36" transform="rotate(53 61.94 245.41)" fill="#4a2496" opacity="0.35"/>
<circle cx="90.1" cy="218.3" r="5.50" fill="url(#gc)" stroke="#d4dcef" stroke-width="0.5"/>
<ellipse cx="89.13" cy="218.48" rx="2.86" ry="2.48" transform="rotate(85 89.13 218.48)" fill="#4a2496" opacity="0.35"/>
<circle cx="98.3" cy="213.2" r="6.25" fill="url(#gc)" stroke="#d4dcef" stroke-width="0.5"/>
<ellipse cx="99.35" cy="213.61" rx="3.25" ry="2.81" transform="rotate(11 99.35 213.61)" fill="#4a2496" opacity="0.35"/>
<circle cx="106.4" cy="211.1" r="5.25" fill="url(#gc)" stroke="#d4dcef" stroke-width="0.5"/>
<ellipse cx="106.82" cy="211.95" rx="2.73" ry="2.36" transform="rotate(32 106.82 211.95)" fill="#4a2496" opacity="0.35"/>
<circle cx="99.8" cy="221.8" r="6.50" fill="url(#gc)" stroke="#d4dcef" stroke-width="0.5"/>
<ellipse cx="99.48" cy="222.93" rx="3.38" ry="2.93" transform="rotate(53 99.48 222.93)" fill="#4a2496" opacity="0.35"/>
<circle cx="91.6" cy="227.4" r="4.62" fill="url(#gc)" stroke="#d4dcef" stroke-width="0.5"/>
<ellipse cx="91.68" cy="226.57" rx="2.41" ry="2.08" transform="rotate(138 91.68 226.57)" fill="#4a2496" opacity="0.35"/>
<circle cx="86.5" cy="232" r="6.50" fill="url(#gc)" stroke="#d4dcef" stroke-width="0.5"/>
<ellipse cx="85.51" cy="232.62" rx="3.38" ry="2.93" transform="rotate(74 85.51 232.62)" fill="#4a2496" opacity="0.35"/>
<circle cx="99.8" cy="231.5" r="5.88" fill="url(#gc)" stroke="#d4dcef" stroke-width="0.5"/>
<ellipse cx="100.79" cy="231.88" rx="3.06" ry="2.64" transform="rotate(11 100.79 231.88)" fill="#4a2496" opacity="0.35"/>
<circle cx="82.5" cy="238.6" r="6.25" fill="url(#gc)" stroke="#d4dcef" stroke-width="0.5"/>
<ellipse cx="83.33" cy="237.84" rx="3.25" ry="2.81" transform="rotate(159 83.33 237.84)" fill="#4a2496" opacity="0.35"/>
<circle cx="91.6" cy="239.1" r="5.25" fill="url(#gc)" stroke="#d4dcef" stroke-width="0.5"/>
<ellipse cx="92.30" cy="238.46" rx="2.73" ry="2.36" transform="rotate(159 92.30 238.46)" fill="#4a2496" opacity="0.35"/>
<circle cx="100.3" cy="237.6" r="5.88" fill="url(#gc)" stroke="#d4dcef" stroke-width="0.5"/>
<ellipse cx="99.66" cy="238.44" rx="3.06" ry="2.64" transform="rotate(64 99.66 238.44)" fill="#4a2496" opacity="0.35"/>
<circle cx="108" cy="236.6" r="5.25" fill="url(#gc)" stroke="#d4dcef" stroke-width="0.5"/>
<ellipse cx="107.07" cy="236.77" rx="2.73" ry="2.36" transform="rotate(85 107.07 236.77)" fill="#4a2496" opacity="0.35"/>
<circle cx="109.5" cy="227.4" r="4.50" fill="url(#gc)" stroke="#d4dcef" stroke-width="0.5"/>
<ellipse cx="108.70" cy="227.55" rx="2.34" ry="2.02" transform="rotate(85 108.70 227.55)" fill="#4a2496" opacity="0.35"/>
<circle cx="129.9" cy="212.6" r="6.25" fill="url(#gc)" stroke="#d4dcef" stroke-width="0.5"/>
<ellipse cx="128.79" cy="212.39" rx="3.25" ry="2.81" transform="rotate(95 128.79 212.39)" fill="#4a2496" opacity="0.35"/>
<circle cx="152.8" cy="213.2" r="5.25" fill="url(#gc)" stroke="#d4dcef" stroke-width="0.5"/>
<ellipse cx="151.87" cy="213.37" rx="2.73" ry="2.36" transform="rotate(85 151.87 213.37)" fill="#4a2496" opacity="0.35"/>
<circle cx="151.8" cy="221.3" r="6.25" fill="url(#gc)" stroke="#d4dcef" stroke-width="0.5"/>
<ellipse cx="150.69" cy="221.09" rx="3.25" ry="2.81" transform="rotate(95 150.69 221.09)" fill="#4a2496" opacity="0.35"/>
<circle cx="157.9" cy="227.4" r="5.88" fill="url(#gc)" stroke="#d4dcef" stroke-width="0.5"/>
<ellipse cx="158.00" cy="228.45" rx="3.06" ry="2.64" transform="rotate(42 158.00 228.45)" fill="#4a2496" opacity="0.35"/>
<circle cx="113.1" cy="227.9" r="5.50" fill="url(#gc)" stroke="#d4dcef" stroke-width="0.5"/>
<ellipse cx="113.83" cy="228.57" rx="2.86" ry="2.48" transform="rotate(21 113.83 228.57)" fill="#4a2496" opacity="0.35"/>
<circle cx="122.7" cy="231.5" r="6.25" fill="url(#gc)" stroke="#d4dcef" stroke-width="0.5"/>
<ellipse cx="123.53" cy="230.74" rx="3.25" ry="2.81" transform="rotate(159 123.53 230.74)" fill="#4a2496" opacity="0.35"/>
<circle cx="132.4" cy="227.4" r="5.88" fill="url(#gc)" stroke="#d4dcef" stroke-width="0.5"/>
<ellipse cx="132.11" cy="228.42" rx="3.06" ry="2.64" transform="rotate(53 132.11 228.42)" fill="#4a2496" opacity="0.35"/>
<circle cx="142.6" cy="226.9" r="4.62" fill="url(#gc)" stroke="#d4dcef" stroke-width="0.5"/>
<ellipse cx="141.89" cy="226.46" rx="2.41" ry="2.08" transform="rotate(106 141.89 226.46)" fill="#4a2496" opacity="0.35"/>
<circle cx="149.2" cy="228.4" r="5.25" fill="url(#gc)" stroke="#d4dcef" stroke-width="0.5"/>
<ellipse cx="148.94" cy="227.49" rx="2.73" ry="2.36" transform="rotate(127 148.94 227.49)" fill="#4a2496" opacity="0.35"/>
<circle cx="116.1" cy="235.1" r="5.88" fill="url(#gc)" stroke="#d4dcef" stroke-width="0.5"/>
<ellipse cx="115.81" cy="234.08" rx="3.06" ry="2.64" transform="rotate(127 115.81 234.08)" fill="#4a2496" opacity="0.35"/>
<circle cx="140.1" cy="233" r="5.25" fill="url(#gc)" stroke="#d4dcef" stroke-width="0.5"/>
<ellipse cx="139.53" cy="232.25" rx="2.73" ry="2.36" transform="rotate(116 139.53 232.25)" fill="#4a2496" opacity="0.35"/>
<circle cx="152.8" cy="234.6" r="5.88" fill="url(#gc)" stroke="#d4dcef" stroke-width="0.5"/>
<ellipse cx="152.16" cy="235.44" rx="3.06" ry="2.64" transform="rotate(64 152.16 235.44)" fill="#4a2496" opacity="0.35"/>
<circle cx="160" cy="234.6" r="4.62" fill="url(#gc)" stroke="#d4dcef" stroke-width="0.5"/>
<ellipse cx="159.18" cy="234.75" rx="2.41" ry="2.08" transform="rotate(85 159.18 234.75)" fill="#4a2496" opacity="0.35"/>
<circle cx="145.7" cy="238.6" r="5.50" fill="url(#gc)" stroke="#d4dcef" stroke-width="0.5"/>
<ellipse cx="146.62" cy="238.96" rx="2.86" ry="2.48" transform="rotate(11 146.62 238.96)" fill="#4a2496" opacity="0.35"/>
<circle cx="155.9" cy="240.7" r="5.25" fill="url(#gc)" stroke="#d4dcef" stroke-width="0.5"/>
<ellipse cx="156.32" cy="239.85" rx="2.73" ry="2.36" transform="rotate(148 156.32 239.85)" fill="#4a2496" opacity="0.35"/>
<circle cx="137.5" cy="223.3" r="1.60" fill="url(#gd)" stroke="#d4dcef" stroke-width="0.5"/>
<circle cx="45.2" cy="247.1" r="6.50" fill="url(#gc)" stroke="#d4dcef" stroke-width="0.5"/>
<ellipse cx="44.21" cy="247.72" rx="3.38" ry="2.93" transform="rotate(74 44.21 247.72)" fill="#4a2496" opacity="0.35"/>
<circle cx="54.9" cy="249.6" r="6.25" fill="url(#gc)" stroke="#d4dcef" stroke-width="0.5"/>
<ellipse cx="55.95" cy="250.01" rx="3.25" ry="2.81" transform="rotate(11 55.95 250.01)" fill="#4a2496" opacity="0.35"/>
<circle cx="30" cy="261.8" r="5.88" fill="url(#gl)" stroke="#d4dcef" stroke-width="0.5"/>
<ellipse cx="29.10" cy="261.24" rx="3.06" ry="2.64" transform="rotate(106 29.10 261.24)" fill="#4a2496" opacity="0.35"/>
<circle cx="45.2" cy="262.9" r="6.50" fill="url(#gc)" stroke="#d4dcef" stroke-width="0.5"/>
<ellipse cx="44.88" cy="264.03" rx="3.38" ry="2.93" transform="rotate(53 44.88 264.03)" fill="#4a2496" opacity="0.35"/>
<circle cx="36.6" cy="269.5" r="5.88" fill="url(#gc)" stroke="#d4dcef" stroke-width="0.5"/>
<ellipse cx="37.07" cy="268.55" rx="3.06" ry="2.64" transform="rotate(148 37.07 268.55)" fill="#4a2496" opacity="0.35"/>
<circle cx="45.2" cy="272" r="5.88" fill="url(#gc)" stroke="#d4dcef" stroke-width="0.5"/>
<ellipse cx="46.26" cy="272.00" rx="3.06" ry="2.64" transform="rotate(0 46.26 272.00)" fill="#4a2496" opacity="0.35"/>
<circle cx="37.6" cy="278.7" r="6.75" fill="url(#gc)" stroke="#d4dcef" stroke-width="0.5"/>
<ellipse cx="38.73" cy="278.26" rx="3.51" ry="3.04" transform="rotate(169 38.73 278.26)" fill="#4a2496" opacity="0.35"/>
<circle cx="72.8" cy="251.6" r="5.88" fill="url(#gc)" stroke="#d4dcef" stroke-width="0.5"/>
<ellipse cx="73.58" cy="252.31" rx="3.06" ry="2.64" transform="rotate(21 73.58 252.31)" fill="#4a2496" opacity="0.35"/>
<circle cx="86.5" cy="277.1" r="5.88" fill="url(#gc)" stroke="#d4dcef" stroke-width="0.5"/>
<ellipse cx="85.86" cy="276.26" rx="3.06" ry="2.64" transform="rotate(116 85.86 276.26)" fill="#4a2496" opacity="0.35"/>
<circle cx="72.3" cy="280.2" r="5.88" fill="url(#gc)" stroke="#d4dcef" stroke-width="0.5"/>
<ellipse cx="73.08" cy="280.91" rx="3.06" ry="2.64" transform="rotate(21 73.08 280.91)" fill="#4a2496" opacity="0.35"/>
<circle cx="80.9" cy="281.2" r="5.25" fill="url(#gc)" stroke="#d4dcef" stroke-width="0.5"/>
<ellipse cx="81.84" cy="281.20" rx="2.73" ry="2.36" transform="rotate(0 81.84 281.20)" fill="#4a2496" opacity="0.35"/>
<circle cx="90.6" cy="282.2" r="5.25" fill="url(#gc)" stroke="#d4dcef" stroke-width="0.5"/>
<ellipse cx="90.03" cy="282.95" rx="2.73" ry="2.36" transform="rotate(64 90.03 282.95)" fill="#4a2496" opacity="0.35"/>
<circle cx="104.9" cy="275.6" r="7.12" fill="url(#gc)" stroke="#d4dcef" stroke-width="0.5"/>
<ellipse cx="104.55" cy="276.83" rx="3.71" ry="3.21" transform="rotate(53 104.55 276.83)" fill="#4a2496" opacity="0.35"/>
<circle cx="99.8" cy="281.7" r="4.62" fill="url(#gc)" stroke="#d4dcef" stroke-width="0.5"/>
<ellipse cx="100.17" cy="282.45" rx="2.41" ry="2.08" transform="rotate(32 100.17 282.45)" fill="#4a2496" opacity="0.35"/>
<circle cx="109" cy="281.7" r="4.38" fill="url(#gc)" stroke="#d4dcef" stroke-width="0.5"/>
<ellipse cx="109.58" cy="282.23" rx="2.27" ry="1.97" transform="rotate(21 109.58 282.23)" fill="#4a2496" opacity="0.35"/>
<circle cx="116.1" cy="246" r="5.88" fill="url(#gc)" stroke="#d4dcef" stroke-width="0.5"/>
<ellipse cx="115.81" cy="244.98" rx="3.06" ry="2.64" transform="rotate(127 115.81 244.98)" fill="#4a2496" opacity="0.35"/>
<circle cx="112.5" cy="252.2" r="5.88" fill="url(#gc)" stroke="#d4dcef" stroke-width="0.5"/>
<ellipse cx="112.21" cy="253.22" rx="3.06" ry="2.64" transform="rotate(53 112.21 253.22)" fill="#4a2496" opacity="0.35"/>
<circle cx="144.7" cy="247.6" r="6.25" fill="url(#gc)" stroke="#d4dcef" stroke-width="0.5"/>
<ellipse cx="144.80" cy="248.72" rx="3.25" ry="2.81" transform="rotate(42 144.80 248.72)" fill="#4a2496" opacity="0.35"/>
<circle cx="157.4" cy="248.1" r="5.50" fill="url(#gc)" stroke="#d4dcef" stroke-width="0.5"/>
<ellipse cx="157.84" cy="247.21" rx="2.86" ry="2.48" transform="rotate(148 157.84 247.21)" fill="#4a2496" opacity="0.35"/>
<circle cx="149.2" cy="253.7" r="5.88" fill="url(#gc)" stroke="#d4dcef" stroke-width="0.5"/>
<ellipse cx="148.91" cy="254.72" rx="3.06" ry="2.64" transform="rotate(53 148.91 254.72)" fill="#4a2496" opacity="0.35"/>
<circle cx="156.9" cy="254.2" r="5.25" fill="url(#gc)" stroke="#d4dcef" stroke-width="0.5"/>
<ellipse cx="156.64" cy="253.29" rx="2.73" ry="2.36" transform="rotate(127 156.64 253.29)" fill="#4a2496" opacity="0.35"/>
<circle cx="145.2" cy="262.9" r="6.25" fill="url(#gc)" stroke="#d4dcef" stroke-width="0.5"/>
<ellipse cx="145.30" cy="264.02" rx="3.25" ry="2.81" transform="rotate(42 145.30 264.02)" fill="#4a2496" opacity="0.35"/>
<circle cx="153.3" cy="260.3" r="5.88" fill="url(#gc)" stroke="#d4dcef" stroke-width="0.5"/>
<ellipse cx="153.01" cy="261.32" rx="3.06" ry="2.64" transform="rotate(53 153.01 261.32)" fill="#4a2496" opacity="0.35"/>
<circle cx="160" cy="262.9" r="4.62" fill="url(#gc)" stroke="#d4dcef" stroke-width="0.5"/>
<ellipse cx="159.29" cy="262.46" rx="2.41" ry="2.08" transform="rotate(106 159.29 262.46)" fill="#4a2496" opacity="0.35"/>
<circle cx="151.8" cy="269.5" r="6.50" fill="url(#gc)" stroke="#d4dcef" stroke-width="0.5"/>
<ellipse cx="151.48" cy="270.63" rx="3.38" ry="2.93" transform="rotate(53 151.48 270.63)" fill="#4a2496" opacity="0.35"/>
<circle cx="129.4" cy="264.4" r="6.75" fill="url(#gc)" stroke="#d4dcef" stroke-width="0.5"/>
<ellipse cx="129.51" cy="263.19" rx="3.51" ry="3.04" transform="rotate(138 129.51 263.19)" fill="#4a2496" opacity="0.35"/>
<circle cx="124.3" cy="273.6" r="5.88" fill="url(#gc)" stroke="#d4dcef" stroke-width="0.5"/>
<ellipse cx="124.40" cy="274.65" rx="3.06" ry="2.64" transform="rotate(42 124.40 274.65)" fill="#4a2496" opacity="0.35"/>
<circle cx="132.4" cy="273.1" r="5.88" fill="url(#gc)" stroke="#d4dcef" stroke-width="0.5"/>
<ellipse cx="131.76" cy="272.26" rx="3.06" ry="2.64" transform="rotate(116 131.76 272.26)" fill="#4a2496" opacity="0.35"/>
<circle cx="116.1" cy="276.6" r="6.25" fill="url(#gc)" stroke="#d4dcef" stroke-width="0.5"/>
<ellipse cx="116.20" cy="277.72" rx="3.25" ry="2.81" transform="rotate(42 116.20 277.72)" fill="#4a2496" opacity="0.35"/>
<circle cx="148.7" cy="277.1" r="5.88" fill="url(#gc)" stroke="#d4dcef" stroke-width="0.5"/>
<ellipse cx="148.06" cy="277.94" rx="3.06" ry="2.64" transform="rotate(64 148.06 277.94)" fill="#4a2496" opacity="0.35"/>
<circle cx="126.3" cy="282.2" r="4.50" fill="url(#gc)" stroke="#d4dcef" stroke-width="0.5"/>
<ellipse cx="125.81" cy="281.55" rx="2.34" ry="2.02" transform="rotate(116 125.81 281.55)" fill="#4a2496" opacity="0.35"/>
<circle cx="138.5" cy="279.7" r="5.25" fill="url(#gc)" stroke="#d4dcef" stroke-width="0.5"/>
<ellipse cx="137.57" cy="279.87" rx="2.73" ry="2.36" transform="rotate(85 137.57 279.87)" fill="#4a2496" opacity="0.35"/>
</g>
<rect x="165.8" y="166" width="155.7" height="117.2" fill="#e7efec"/>
<g clip-path="url(#c2)">
<g filter="url(#blr)" opacity="0.85"><path d="M253 212 Q256 207 261 209 Q266 211 266 216 Q270 220 268 226 Q264 229 261 225 Q257 221 254 219 Q251 216 253 212Z" fill="#b79ad2"/><ellipse cx="258" cy="214" rx="3" ry="2.5" fill="#a886c8"/><ellipse cx="264" cy="221" rx="2.2" ry="2.5" fill="#a886c8"/></g>
<ellipse cx="219" cy="244" rx="5" ry="4" fill="#c8b0d8" opacity="0.5" filter="url(#blr)"/>
<circle cx="216" cy="178.2" r="7.12" fill="url(#gc)" stroke="#d4dcef" stroke-width="0.5"/>
<ellipse cx="216.12" cy="179.48" rx="3.71" ry="3.21" transform="rotate(42 216.12 179.48)" fill="#4a2496" opacity="0.35"/>
<circle cx="215.5" cy="188.4" r="7.75" fill="url(#gc)" stroke="#d4dcef" stroke-width="0.5"/>
<ellipse cx="216.53" cy="187.46" rx="4.03" ry="3.49" transform="rotate(159 216.53 187.46)" fill="#4a2496" opacity="0.35"/>
<circle cx="223.6" cy="171.6" r="5.50" fill="url(#gc)" stroke="#d4dcef" stroke-width="0.5"/>
<ellipse cx="223.33" cy="172.55" rx="2.86" ry="2.48" transform="rotate(53 223.33 172.55)" fill="#4a2496" opacity="0.35"/>
<circle cx="226.2" cy="180.8" r="5.25" fill="url(#gc)" stroke="#d4dcef" stroke-width="0.5"/>
<ellipse cx="227.08" cy="181.14" rx="2.73" ry="2.36" transform="rotate(11 227.08 181.14)" fill="#4a2496" opacity="0.35"/>
<circle cx="236.9" cy="180.3" r="6.50" fill="url(#gc)" stroke="#d4dcef" stroke-width="0.5"/>
<ellipse cx="235.91" cy="179.68" rx="3.38" ry="2.93" transform="rotate(106 235.91 179.68)" fill="#4a2496" opacity="0.35"/>
<circle cx="241.5" cy="172.1" r="7.12" fill="url(#gc)" stroke="#d4dcef" stroke-width="0.5"/>
<ellipse cx="242.70" cy="172.56" rx="3.71" ry="3.21" transform="rotate(11 242.70 172.56)" fill="#4a2496" opacity="0.35"/>
<circle cx="247.6" cy="180.3" r="5.25" fill="url(#gc)" stroke="#d4dcef" stroke-width="0.5"/>
<ellipse cx="248.02" cy="181.15" rx="2.73" ry="2.36" transform="rotate(32 248.02 181.15)" fill="#4a2496" opacity="0.35"/>
<circle cx="230.3" cy="187.9" r="5.88" fill="url(#gc)" stroke="#d4dcef" stroke-width="0.5"/>
<ellipse cx="231.08" cy="188.61" rx="3.06" ry="2.64" transform="rotate(21 231.08 188.61)" fill="#4a2496" opacity="0.35"/>
<circle cx="226.2" cy="194" r="6.50" fill="url(#gc)" stroke="#d4dcef" stroke-width="0.5"/>
<ellipse cx="225.05" cy="194.22" rx="3.38" ry="2.93" transform="rotate(85 225.05 194.22)" fill="#4a2496" opacity="0.35"/>
<circle cx="232.7" cy="202.9" r="5.88" fill="url(#gc)" stroke="#d4dcef" stroke-width="0.5"/>
<ellipse cx="233.48" cy="202.19" rx="3.06" ry="2.64" transform="rotate(159 233.48 202.19)" fill="#4a2496" opacity="0.35"/>
<circle cx="288.4" cy="168.5" r="6.50" fill="url(#gc)" stroke="#d4dcef" stroke-width="0.5"/>
<ellipse cx="287.25" cy="168.29" rx="3.38" ry="2.93" transform="rotate(95 287.25 168.29)" fill="#4a2496" opacity="0.35"/>
<circle cx="290.9" cy="174.7" r="2.00" fill="url(#gd)" stroke="#d4dcef" stroke-width="0.5"/>
<circle cx="301.1" cy="179.8" r="6.25" fill="url(#gc)" stroke="#d4dcef" stroke-width="0.5"/>
<ellipse cx="302.15" cy="180.21" rx="3.25" ry="2.81" transform="rotate(11 302.15 180.21)" fill="#4a2496" opacity="0.35"/>
<circle cx="295" cy="181.3" r="1.20" fill="url(#gd)" stroke="#d4dcef" stroke-width="0.5"/>
<circle cx="320.5" cy="167" r="3.75" fill="url(#gc)" stroke="#d4dcef" stroke-width="0.5"/>
<ellipse cx="321.13" cy="167.24" rx="1.95" ry="1.69" transform="rotate(11 321.13 167.24)" fill="#4a2496" opacity="0.35"/>
<circle cx="289.4" cy="195" r="6.50" fill="url(#gc)" stroke="#d4dcef" stroke-width="0.5"/>
<ellipse cx="289.92" cy="193.95" rx="3.38" ry="2.93" transform="rotate(148 289.92 193.95)" fill="#4a2496" opacity="0.35"/>
<circle cx="278.2" cy="199.1" r="5.50" fill="url(#gc)" stroke="#d4dcef" stroke-width="0.5"/>
<ellipse cx="278.29" cy="198.11" rx="2.86" ry="2.48" transform="rotate(138 278.29 198.11)" fill="#4a2496" opacity="0.35"/>
<circle cx="173.7" cy="218.3" r="7.12" fill="url(#gl)" stroke="#d4dcef" stroke-width="0.5"/>
<ellipse cx="172.93" cy="219.32" rx="3.71" ry="3.21" transform="rotate(64 172.93 219.32)" fill="#4a2496" opacity="0.35"/>
<circle cx="172.6" cy="227.4" r="5.88" fill="url(#gc)" stroke="#d4dcef" stroke-width="0.5"/>
<ellipse cx="171.56" cy="227.21" rx="3.06" ry="2.64" transform="rotate(95 171.56 227.21)" fill="#4a2496" opacity="0.35"/>
<circle cx="182.3" cy="228.4" r="6.25" fill="url(#gc)" stroke="#d4dcef" stroke-width="0.5"/>
<ellipse cx="183.13" cy="227.64" rx="3.25" ry="2.81" transform="rotate(159 183.13 227.64)" fill="#4a2496" opacity="0.35"/>
<circle cx="191" cy="229" r="6.25" fill="url(#gc)" stroke="#d4dcef" stroke-width="0.5"/>
<ellipse cx="191.10" cy="227.88" rx="3.25" ry="2.81" transform="rotate(138 191.10 227.88)" fill="#4a2496" opacity="0.35"/>
<circle cx="197.6" cy="228.4" r="3.12" fill="url(#gc)" stroke="#d4dcef" stroke-width="0.5"/>
<ellipse cx="197.05" cy="228.50" rx="1.62" ry="1.41" transform="rotate(85 197.05 228.50)" fill="#4a2496" opacity="0.35"/>
<circle cx="166.5" cy="238.6" r="4.50" fill="url(#gc)" stroke="#d4dcef" stroke-width="0.5"/>
<ellipse cx="167.31" cy="238.60" rx="2.34" ry="2.02" transform="rotate(0 167.31 238.60)" fill="#4a2496" opacity="0.35"/>
<circle cx="212" cy="236.6" r="5.50" fill="url(#gc)" stroke="#d4dcef" stroke-width="0.5"/>
<ellipse cx="212.44" cy="237.49" rx="2.86" ry="2.48" transform="rotate(32 212.44 237.49)" fill="#4a2496" opacity="0.35"/>
<circle cx="207.8" cy="241.2" r="3.12" fill="url(#gc)" stroke="#d4dcef" stroke-width="0.5"/>
<ellipse cx="208.05" cy="241.70" rx="1.62" ry="1.41" transform="rotate(32 208.05 241.70)" fill="#4a2496" opacity="0.35"/>
<circle cx="217.5" cy="246.2" r="5.00" fill="url(#gp)" stroke="#d4dcef" stroke-width="0.5"/>
<circle cx="270" cy="209.5" r="7.12" fill="url(#gc)" stroke="#d4dcef" stroke-width="0.5"/>
<ellipse cx="270.95" cy="210.36" rx="3.71" ry="3.21" transform="rotate(21 270.95 210.36)" fill="#4a2496" opacity="0.35"/>
<circle cx="280.2" cy="209.1" r="5.25" fill="url(#gc)" stroke="#d4dcef" stroke-width="0.5"/>
<ellipse cx="279.40" cy="209.60" rx="2.73" ry="2.36" transform="rotate(74 279.40 209.60)" fill="#4a2496" opacity="0.35"/>
<circle cx="317.4" cy="213.2" r="5.50" fill="url(#gc)" stroke="#d4dcef" stroke-width="0.5"/>
<ellipse cx="318.13" cy="213.87" rx="2.86" ry="2.48" transform="rotate(21 318.13 213.87)" fill="#4a2496" opacity="0.35"/>
<circle cx="312.3" cy="234.6" r="5.25" fill="url(#gc)" stroke="#d4dcef" stroke-width="0.5"/>
<ellipse cx="313.00" cy="233.96" rx="2.73" ry="2.36" transform="rotate(159 313.00 233.96)" fill="#4a2496" opacity="0.35"/>
<circle cx="301" cy="242.5" r="6.00" fill="url(#gc)" stroke="#d4dcef" stroke-width="0.5"/>
<ellipse cx="299.94" cy="242.70" rx="3.12" ry="2.70" transform="rotate(85 299.94 242.70)" fill="#4a2496" opacity="0.35"/>
<circle cx="293.5" cy="245" r="5.62" fill="url(#gc)" stroke="#d4dcef" stroke-width="0.5"/>
<ellipse cx="293.22" cy="244.03" rx="2.93" ry="2.53" transform="rotate(127 293.22 244.03)" fill="#4a2496" opacity="0.35"/>
<circle cx="259.8" cy="253.2" r="5.00" fill="url(#gc)" stroke="#d4dcef" stroke-width="0.5"/>
<ellipse cx="259.55" cy="252.33" rx="2.60" ry="2.25" transform="rotate(127 259.55 252.33)" fill="#4a2496" opacity="0.35"/>
<circle cx="206.3" cy="256.2" r="5.50" fill="url(#gc)" stroke="#d4dcef" stroke-width="0.5"/>
<ellipse cx="206.03" cy="257.15" rx="2.86" ry="2.48" transform="rotate(53 206.03 257.15)" fill="#4a2496" opacity="0.35"/>
<circle cx="203.2" cy="264.9" r="5.88" fill="url(#gc)" stroke="#d4dcef" stroke-width="0.5"/>
<ellipse cx="202.16" cy="264.71" rx="3.06" ry="2.64" transform="rotate(95 202.16 264.71)" fill="#4a2496" opacity="0.35"/>
<circle cx="197.6" cy="271" r="4.62" fill="url(#gc)" stroke="#d4dcef" stroke-width="0.5"/>
<ellipse cx="197.68" cy="271.83" rx="2.41" ry="2.08" transform="rotate(42 197.68 271.83)" fill="#4a2496" opacity="0.35"/>
<circle cx="202.7" cy="275.6" r="5.25" fill="url(#gc)" stroke="#d4dcef" stroke-width="0.5"/>
<ellipse cx="202.44" cy="276.51" rx="2.73" ry="2.36" transform="rotate(53 202.44 276.51)" fill="#4a2496" opacity="0.35"/>
<circle cx="189.5" cy="279.2" r="9.50" fill="url(#gc)" stroke="#d4dcef" stroke-width="0.5"/>
<ellipse cx="189.66" cy="280.90" rx="4.94" ry="4.28" transform="rotate(42 189.66 280.90)" fill="#4a2496" opacity="0.35"/>
<circle cx="234.8" cy="260.3" r="5.00" fill="url(#gc)" stroke="#d4dcef" stroke-width="0.5"/>
<ellipse cx="234.88" cy="261.20" rx="2.60" ry="2.25" transform="rotate(42 234.88 261.20)" fill="#4a2496" opacity="0.35"/>
<circle cx="227.7" cy="264.9" r="5.88" fill="url(#gc)" stroke="#d4dcef" stroke-width="0.5"/>
<ellipse cx="228.69" cy="265.28" rx="3.06" ry="2.64" transform="rotate(11 228.69 265.28)" fill="#4a2496" opacity="0.35"/>
<circle cx="220.1" cy="269" r="5.88" fill="url(#gc)" stroke="#d4dcef" stroke-width="0.5"/>
<ellipse cx="219.06" cy="268.81" rx="3.06" ry="2.64" transform="rotate(95 219.06 268.81)" fill="#4a2496" opacity="0.35"/>
<circle cx="229.2" cy="271.5" r="5.50" fill="url(#gc)" stroke="#d4dcef" stroke-width="0.5"/>
<ellipse cx="229.93" cy="270.83" rx="2.86" ry="2.48" transform="rotate(159 229.93 270.83)" fill="#4a2496" opacity="0.35"/>
<circle cx="220.1" cy="277.6" r="5.88" fill="url(#gc)" stroke="#d4dcef" stroke-width="0.5"/>
<ellipse cx="220.88" cy="278.31" rx="3.06" ry="2.64" transform="rotate(21 220.88 278.31)" fill="#4a2496" opacity="0.35"/>
<circle cx="228.7" cy="279.2" r="5.50" fill="url(#gc)" stroke="#d4dcef" stroke-width="0.5"/>
<ellipse cx="229.43" cy="279.87" rx="2.86" ry="2.48" transform="rotate(21 229.43 279.87)" fill="#4a2496" opacity="0.35"/>
<circle cx="243" cy="276.6" r="6.25" fill="url(#gc)" stroke="#d4dcef" stroke-width="0.5"/>
<ellipse cx="243.10" cy="275.48" rx="3.25" ry="2.81" transform="rotate(138 243.10 275.48)" fill="#4a2496" opacity="0.35"/>
<circle cx="256.2" cy="278.1" r="6.25" fill="url(#gc)" stroke="#d4dcef" stroke-width="0.5"/>
<ellipse cx="255.89" cy="277.02" rx="3.25" ry="2.81" transform="rotate(127 255.89 277.02)" fill="#4a2496" opacity="0.35"/>
<circle cx="309.3" cy="265.9" r="5.88" fill="url(#gc)" stroke="#d4dcef" stroke-width="0.5"/>
<ellipse cx="309.01" cy="266.92" rx="3.06" ry="2.64" transform="rotate(53 309.01 266.92)" fill="#4a2496" opacity="0.35"/>
<circle cx="313.5" cy="262.5" r="4.50" fill="url(#gc)" stroke="#d4dcef" stroke-width="0.5"/>
<ellipse cx="312.70" cy="262.65" rx="2.34" ry="2.02" transform="rotate(85 312.70 262.65)" fill="#4a2496" opacity="0.35"/>
<circle cx="250.1" cy="241.3" r="14.5" fill="url(#gbA)" stroke="#4038b8" stroke-width="0.8"/>
<g opacity="0.55" filter="url(#blr)"><ellipse cx="245" cy="245" rx="5" ry="6" fill="#40208e"/><ellipse cx="253" cy="238" rx="5.5" ry="4.5" fill="#40208e"/><ellipse cx="255" cy="248" rx="4" ry="3.5" fill="#40208e"/></g>
<circle cx="240" cy="232" r="0.6" fill="#b8b8f0" opacity="0.8"/>
<circle cx="244" cy="229" r="0.6" fill="#b8b8f0" opacity="0.8"/>
<circle cx="237" cy="240" r="0.6" fill="#b8b8f0" opacity="0.8"/>
<circle cx="238" cy="247" r="0.6" fill="#b8b8f0" opacity="0.8"/>
<circle cx="242" cy="252" r="0.6" fill="#b8b8f0" opacity="0.8"/>
<circle cx="258" cy="229" r="0.6" fill="#b8b8f0" opacity="0.8"/>
<circle cx="262" cy="236" r="0.6" fill="#b8b8f0" opacity="0.8"/>
<circle cx="262" cy="245" r="0.6" fill="#b8b8f0" opacity="0.8"/>
<circle cx="249" cy="240" r="0.6" fill="#b8b8f0" opacity="0.8"/>
<circle cx="246" cy="238" r="0.6" fill="#b8b8f0" opacity="0.8"/>
<circle cx="282.8" cy="229.1" r="14.9" fill="url(#gbB)" stroke="#c9d2ea" stroke-width="0.5"/>
<g opacity="0.5" filter="url(#blr)"><ellipse cx="278" cy="233" rx="6" ry="7" fill="#2a1c7a"/><ellipse cx="288" cy="224" rx="6" ry="5" fill="#2a1c7a"/></g>
</g>
<line x1="120.00" y1="282.70" x2="149.00" y2="282.70" stroke="#111" stroke-width="1.0" />
<line x1="149.00" y1="282.70" x2="162.50" y2="282.70" stroke="#777" stroke-width="1.0" />
<text x="160.80" y="280.40" font-size="6" text-anchor="end" fill="#222" >75</text>
<text x="138.50" y="280.40" font-size="5.6" text-anchor="middle" fill="#111" >µm</text>
<text x="121.70" y="280.40" font-size="5.6" text-anchor="middle" fill="#111" >0</text>
<line x1="280.70" y1="282.80" x2="320.50" y2="282.80" stroke="#999" stroke-width="1.0" />
<line x1="281.20" y1="282.30" x2="281.20" y2="283.30" stroke="#333" stroke-width="0.8" />
<line x1="288.80" y1="282.30" x2="288.80" y2="283.30" stroke="#333" stroke-width="0.8" />
<line x1="296.40" y1="282.30" x2="296.40" y2="283.30" stroke="#333" stroke-width="0.8" />
<line x1="304.00" y1="282.30" x2="304.00" y2="283.30" stroke="#333" stroke-width="0.8" />
<line x1="311.60" y1="282.30" x2="311.60" y2="283.30" stroke="#333" stroke-width="0.8" />
<line x1="319.20" y1="282.30" x2="319.20" y2="283.30" stroke="#333" stroke-width="0.8" />
<text x="281.20" y="280.60" font-size="5.8" text-anchor="middle" fill="#222" >0</text>
<text x="298.00" y="280.60" font-size="5.8" text-anchor="middle" fill="#222" >µm</text>
<text x="320.30" y="280.60" font-size="5.8" text-anchor="end" fill="#222" >75</text>
<line x1="363.20" y1="173.30" x2="363.20" y2="252.20" stroke="#1a1a1a" stroke-width="1.0" />
<line x1="360.10" y1="251.50" x2="363.20" y2="251.50" stroke="#1a1a1a" stroke-width="1" />
<text x="357.10" y="254.10" font-size="7.4" text-anchor="end" fill="#222" >0</text>
<line x1="360.10" y1="229.15" x2="363.20" y2="229.15" stroke="#1a1a1a" stroke-width="1" />
<text x="357.10" y="231.75" font-size="7.4" text-anchor="end" fill="#222" >5</text>
<line x1="360.10" y1="206.80" x2="363.20" y2="206.80" stroke="#1a1a1a" stroke-width="1" />
<text x="357.10" y="209.40" font-size="7.4" text-anchor="end" fill="#222" >10</text>
<line x1="360.10" y1="184.45" x2="363.20" y2="184.45" stroke="#1a1a1a" stroke-width="1" />
<text x="357.10" y="187.05" font-size="7.4" text-anchor="end" fill="#222" >15</text>
<line x1="362.70" y1="251.50" x2="468.00" y2="251.50" stroke="#3a3a3a" stroke-width="1.5" />
<line x1="363.20" y1="251.50" x2="363.20" y2="254.30" stroke="#222" stroke-width="0.9" />
<text x="363.20" y="263.50" font-size="7.4" text-anchor="middle" fill="#222" >0</text>
<line x1="388.20" y1="251.50" x2="388.20" y2="254.30" stroke="#222" stroke-width="0.9" />
<text x="388.20" y="263.50" font-size="7.4" text-anchor="middle" fill="#222" >2</text>
<line x1="413.20" y1="251.50" x2="413.20" y2="254.30" stroke="#222" stroke-width="0.9" />
<text x="413.20" y="263.50" font-size="7.4" text-anchor="middle" fill="#222" >4</text>
<line x1="438.20" y1="251.50" x2="438.20" y2="254.30" stroke="#222" stroke-width="0.9" />
<text x="438.20" y="263.50" font-size="7.4" text-anchor="middle" fill="#222" >6</text>
<line x1="463.20" y1="251.50" x2="463.20" y2="254.30" stroke="#222" stroke-width="0.9" />
<text x="463.20" y="263.50" font-size="7.4" text-anchor="middle" fill="#222" >8</text>
<text x="422.60" y="276.10" font-size="8.6" text-anchor="middle" fill="#1a1a1a" textLength="55.4" lengthAdjust="spacingAndGlyphs" stroke="#1a1a1a" stroke-width="0.3">Days (IL3: 2 ng/ml)</text>
<text x="342.7" y="217.5" font-size="9.2" text-anchor="middle" fill="#1a1a1a" stroke="#1a1a1a" stroke-width="0.3" textLength="57.7" lengthAdjust="spacingAndGlyphs" transform="rotate(-90 342.7 217.5)">% of dysplastic cells</text>
<polyline points="363.20,251.50 388.20,251.50 413.20,249.26 438.20,251.50 463.20,247.03" fill="none" stroke="#1d4f91" stroke-width="1.3" stroke-linejoin="round"/>
<g opacity="0.75">
<line x1="413.20" y1="251.50" x2="413.20" y2="247.03" stroke="#1d4f91" stroke-width="1.1" />
<line x1="410.20" y1="251.50" x2="416.20" y2="251.50" stroke="#1d4f91" stroke-width="1.1" />
<line x1="410.20" y1="247.03" x2="416.20" y2="247.03" stroke="#1d4f91" stroke-width="1.1" />
</g>
<g opacity="0.75">
<line x1="463.20" y1="251.50" x2="463.20" y2="242.56" stroke="#1d4f91" stroke-width="1.1" />
<line x1="460.20" y1="251.50" x2="466.20" y2="251.50" stroke="#1d4f91" stroke-width="1.1" />
<line x1="460.20" y1="242.56" x2="466.20" y2="242.56" stroke="#1d4f91" stroke-width="1.1" />
</g>
<circle cx="363.20" cy="251.50" r="2.09" fill="#1d4f91"/>
<circle cx="388.20" cy="251.50" r="2.09" fill="#1d4f91"/>
<circle cx="413.20" cy="249.26" r="2.09" fill="#1d4f91"/>
<circle cx="438.20" cy="251.50" r="2.09" fill="#1d4f91"/>
<circle cx="463.20" cy="247.03" r="2.09" fill="#1d4f91"/>
<polyline points="363.20,251.50 388.20,251.50 413.20,251.50 438.20,250.61 463.20,251.50" fill="none" stroke="#3db54a" stroke-width="1.3" stroke-linejoin="round"/>
<g opacity="0.75">
<line x1="438.20" y1="251.50" x2="438.20" y2="247.03" stroke="#3db54a" stroke-width="1.1" />
<line x1="435.20" y1="251.50" x2="441.20" y2="251.50" stroke="#3db54a" stroke-width="1.1" />
<line x1="435.20" y1="247.03" x2="441.20" y2="247.03" stroke="#3db54a" stroke-width="1.1" />
</g>
<path d="M363.20 249.08L365.62 253.26L360.78 253.26Z" fill="#3db54a"/>
<path d="M388.20 249.08L390.62 253.26L385.78 253.26Z" fill="#3db54a"/>
<path d="M413.20 249.08L415.62 253.26L410.78 253.26Z" fill="#3db54a"/>
<path d="M438.20 248.19L440.62 252.37L435.78 252.37Z" fill="#3db54a"/>
<path d="M463.20 249.08L465.62 253.26L460.78 253.26Z" fill="#3db54a"/>
<polyline points="363.20,251.50 388.20,202.33 413.20,193.39 438.20,209.03 463.20,206.80" fill="none" stroke="#c8102e" stroke-width="1.3" stroke-linejoin="round"/>
<g opacity="0.75">
<line x1="388.20" y1="211.27" x2="388.20" y2="193.39" stroke="#c8102e" stroke-width="1.1" />
<line x1="385.20" y1="211.27" x2="391.20" y2="211.27" stroke="#c8102e" stroke-width="1.1" />
<line x1="385.20" y1="193.39" x2="391.20" y2="193.39" stroke="#c8102e" stroke-width="1.1" />
</g>
<g opacity="0.75">
<line x1="413.20" y1="197.86" x2="413.20" y2="188.92" stroke="#c8102e" stroke-width="1.1" />
<line x1="410.20" y1="197.86" x2="416.20" y2="197.86" stroke="#c8102e" stroke-width="1.1" />
<line x1="410.20" y1="188.92" x2="416.20" y2="188.92" stroke="#c8102e" stroke-width="1.1" />
</g>
<g opacity="0.75">
<line x1="438.20" y1="211.27" x2="438.20" y2="206.80" stroke="#c8102e" stroke-width="1.1" />
<line x1="435.20" y1="211.27" x2="441.20" y2="211.27" stroke="#c8102e" stroke-width="1.1" />
<line x1="435.20" y1="206.80" x2="441.20" y2="206.80" stroke="#c8102e" stroke-width="1.1" />
</g>
<g opacity="0.75">
<line x1="463.20" y1="215.74" x2="463.20" y2="197.86" stroke="#c8102e" stroke-width="1.1" />
<line x1="460.20" y1="215.74" x2="466.20" y2="215.74" stroke="#c8102e" stroke-width="1.1" />
<line x1="460.20" y1="197.86" x2="466.20" y2="197.86" stroke="#c8102e" stroke-width="1.1" />
</g>
<rect x="361.22" y="249.52" width="3.96" height="3.96" fill="#c8102e"/>
<rect x="386.22" y="200.35" width="3.96" height="3.96" fill="#c8102e"/>
<rect x="411.22" y="191.41" width="3.96" height="3.96" fill="#c8102e"/>
<rect x="436.22" y="207.06" width="3.96" height="3.96" fill="#c8102e"/>
<rect x="461.22" y="204.82" width="3.96" height="3.96" fill="#c8102e"/>
<line x1="383.50" y1="182.90" x2="392.90" y2="182.90" stroke="#3a3a3a" stroke-width="1" />
<ellipse cx="388.20" cy="178.70" rx="1.1" ry="0.85" fill="#2a2a2a"/>
<line x1="408.50" y1="182.90" x2="417.90" y2="182.90" stroke="#3a3a3a" stroke-width="1" />
<ellipse cx="411.75" cy="178.70" rx="1.1" ry="0.85" fill="#2a2a2a"/>
<ellipse cx="414.65" cy="178.70" rx="1.1" ry="0.85" fill="#2a2a2a"/>
<line x1="433.50" y1="182.90" x2="442.90" y2="182.90" stroke="#3a3a3a" stroke-width="1" />
<ellipse cx="438.20" cy="178.70" rx="1.1" ry="0.85" fill="#2a2a2a"/>
<line x1="458.50" y1="182.90" x2="467.90" y2="182.90" stroke="#3a3a3a" stroke-width="1" />
<ellipse cx="463.20" cy="178.70" rx="1.1" ry="0.85" fill="#2a2a2a"/>
<line x1="472.60" y1="187.80" x2="484.90" y2="187.80" stroke="#3db54a" stroke-width="1.3" />
<path d="M478.80 185.38L481.22 189.56L476.38 189.56Z" fill="#3db54a"/>
<text x="487.70" y="190.10" font-size="6.8" text-anchor="start" fill="#222" >Parental</text>
<line x1="472.60" y1="198.00" x2="484.90" y2="198.00" stroke="#1d4f91" stroke-width="1.3" />
<circle cx="478.80" cy="198.00" r="2.09" fill="#1d4f91"/>
<text x="487.70" y="200.30" font-size="6.8" text-anchor="start" fill="#222" >wtLCP1</text>
<line x1="472.60" y1="208.20" x2="484.90" y2="208.20" stroke="#c8102e" stroke-width="1.3" />
<rect x="476.82" y="206.22" width="3.96" height="3.96" fill="#c8102e"/>
<text x="487.70" y="210.50" font-size="6.8" text-anchor="start" fill="#222" >I232F</text>
<text x="7.00" y="321.60" font-size="10.5" text-anchor="start" fill="#111" font-weight="bold" >C</text>
<text x="58.50" y="321.00" font-size="8.3" text-anchor="middle" fill="#111" >0 hr</text>
<text x="166.30" y="321.00" font-size="8.3" text-anchor="middle" fill="#111" >24 hr</text>
<text x="274.60" y="321.00" font-size="8.3" text-anchor="middle" fill="#111" >48 hr</text>
<rect x="7.40" y="327.40" width="101.50" height="104.90" fill="none" stroke="#222" stroke-width="1.1" rx="0.6"/>
<rect x="115.40" y="327.40" width="102.30" height="104.90" fill="none" stroke="#222" stroke-width="1.1" rx="0.6"/>
<rect x="223.50" y="327.40" width="102.30" height="104.90" fill="none" stroke="#222" stroke-width="1.1" rx="0.6"/>
<rect x="7.40" y="439.00" width="101.50" height="104.60" fill="none" stroke="#222" stroke-width="1.1" rx="0.6"/>
<rect x="115.40" y="439.00" width="102.30" height="104.60" fill="none" stroke="#222" stroke-width="1.1" rx="0.6"/>
<rect x="223.50" y="439.00" width="102.30" height="104.60" fill="none" stroke="#222" stroke-width="1.1" rx="0.6"/>
<path d="M27.00 431.90 C28.10 427.90 28.40 389.70 29.05 360.90 Q29.40 358.80 29.75 360.90 C30.40 389.70 31.00 422.00 31.20 428.00 C31.35 428.65 31.50 431.32 32.10 431.90 C32.70 432.48 33.82 431.73 34.80 431.50 C35.78 431.27 37.00 430.93 38.00 430.50 C39.00 430.07 40.10 428.98 40.80 428.90 C41.50 428.82 41.58 429.95 42.20 430.00 C42.82 430.05 43.77 429.53 44.50 429.20 C45.23 428.87 46.02 427.95 46.60 428.00 C47.18 428.05 47.50 428.85 48.00 429.50 C48.50 430.15 49.33 431.50 49.60 431.90 Z" fill="#f4c4cc" stroke="none"/>
<path d="M27.00 431.90 C28.10 427.90 28.40 389.70 29.05 360.90 Q29.40 358.80 29.75 360.90 C30.40 389.70 31.00 422.00 31.20 428.00 C31.35 428.65 31.50 431.32 32.10 431.90 C32.70 432.48 33.82 431.73 34.80 431.50 C35.78 431.27 37.00 430.93 38.00 430.50 C39.00 430.07 40.10 428.98 40.80 428.90 C41.50 428.82 41.58 429.95 42.20 430.00 C42.82 430.05 43.77 429.53 44.50 429.20 C45.23 428.87 46.02 427.95 46.60 428.00 C47.18 428.05 47.50 428.85 48.00 429.50 C48.50 430.15 49.33 431.50 49.60 431.90 " fill="none" stroke="#cf1038" stroke-width="1.15" stroke-linejoin="round"/>
<path d="M135.00 431.90 C136.10 427.90 136.40 383.90 137.05 355.10 Q137.40 353.00 137.75 355.10 C138.40 383.90 138.40 415.00 138.60 421.00 C138.75 421.58 139.03 423.52 139.50 424.50 C139.97 425.48 140.40 426.10 141.40 426.90 C142.40 427.70 144.03 429.13 145.50 429.30 C146.97 429.47 149.03 428.53 150.20 427.90 C151.37 427.27 151.92 426.62 152.50 425.50 C153.08 424.38 153.35 421.45 153.70 421.20 C154.05 420.95 154.33 422.78 154.60 424.00 C154.87 425.22 155.03 427.18 155.30 428.50 C155.57 429.82 156.05 431.33 156.20 431.90 Z" fill="#f4c4cc" stroke="none"/>
<path d="M135.00 431.90 C136.10 427.90 136.40 383.90 137.05 355.10 Q137.40 353.00 137.75 355.10 C138.40 383.90 138.40 415.00 138.60 421.00 C138.75 421.58 139.03 423.52 139.50 424.50 C139.97 425.48 140.40 426.10 141.40 426.90 C142.40 427.70 144.03 429.13 145.50 429.30 C146.97 429.47 149.03 428.53 150.20 427.90 C151.37 427.27 151.92 426.62 152.50 425.50 C153.08 424.38 153.35 421.45 153.70 421.20 C154.05 420.95 154.33 422.78 154.60 424.00 C154.87 425.22 155.03 427.18 155.30 428.50 C155.57 429.82 156.05 431.33 156.20 431.90 " fill="none" stroke="#cf1038" stroke-width="1.15" stroke-linejoin="round"/>
<path d="M243.40 431.90 C244.10 427.90 244.40 383.30 245.45 354.50 Q245.80 352.40 246.15 354.50 C247.10 383.30 247.10 418.90 247.30 424.90 C247.55 425.30 248.10 426.78 248.80 427.30 C249.50 427.82 250.72 427.78 251.50 428.00 C252.28 428.22 252.83 428.55 253.50 428.60 C254.17 428.65 254.75 428.32 255.50 428.30 C256.25 428.28 257.22 428.60 258.00 428.50 C258.78 428.40 259.57 428.03 260.20 427.70 C260.83 427.37 261.33 426.97 261.80 426.50 C262.27 426.03 262.60 424.65 263.00 424.90 C263.40 425.15 263.82 426.83 264.20 428.00 C264.58 429.17 265.12 431.25 265.30 431.90 Z" fill="#f4c4cc" stroke="none"/>
<path d="M243.40 431.90 C244.10 427.90 244.40 383.30 245.45 354.50 Q245.80 352.40 246.15 354.50 C247.10 383.30 247.10 418.90 247.30 424.90 C247.55 425.30 248.10 426.78 248.80 427.30 C249.50 427.82 250.72 427.78 251.50 428.00 C252.28 428.22 252.83 428.55 253.50 428.60 C254.17 428.65 254.75 428.32 255.50 428.30 C256.25 428.28 257.22 428.60 258.00 428.50 C258.78 428.40 259.57 428.03 260.20 427.70 C260.83 427.37 261.33 426.97 261.80 426.50 C262.27 426.03 262.60 424.65 263.00 424.90 C263.40 425.15 263.82 426.83 264.20 428.00 C264.58 429.17 265.12 431.25 265.30 431.90 " fill="none" stroke="#cf1038" stroke-width="1.15" stroke-linejoin="round"/>
<path d="M27.20 543.10 C27.80 539.10 28.10 504.60 29.05 475.80 Q29.40 473.70 29.75 475.80 C30.40 504.60 30.80 534.00 31.00 540.00 C31.18 540.47 31.27 542.30 32.10 542.80 C32.93 543.30 34.68 543.08 36.00 543.00 C37.32 542.92 38.67 542.67 40.00 542.30 C41.33 541.93 42.88 541.42 44.00 540.80 C45.12 540.18 46.03 538.57 46.70 538.60 C47.37 538.63 47.53 540.25 48.00 541.00 C48.47 541.75 49.25 542.75 49.50 543.10 Z" fill="#f4c4cc" stroke="none"/>
<path d="M27.20 543.10 C27.80 539.10 28.10 504.60 29.05 475.80 Q29.40 473.70 29.75 475.80 C30.40 504.60 30.80 534.00 31.00 540.00 C31.18 540.47 31.27 542.30 32.10 542.80 C32.93 543.30 34.68 543.08 36.00 543.00 C37.32 542.92 38.67 542.67 40.00 542.30 C41.33 541.93 42.88 541.42 44.00 540.80 C45.12 540.18 46.03 538.57 46.70 538.60 C47.37 538.63 47.53 540.25 48.00 541.00 C48.47 541.75 49.25 542.75 49.50 543.10 " fill="none" stroke="#cf1038" stroke-width="1.15" stroke-linejoin="round"/>
<path d="M135.40 543.10 C136.10 539.10 136.40 494.30 137.05 465.50 Q137.40 463.40 137.75 465.50 C139.40 494.30 139.30 524.20 139.50 530.20 C139.72 530.65 140.25 532.07 140.80 532.90 C141.35 533.73 142.02 534.20 142.80 535.20 C143.58 536.20 144.60 538.22 145.50 538.90 C146.40 539.58 147.30 539.07 148.20 539.30 C149.10 539.53 150.07 540.70 150.90 540.30 C151.73 539.90 152.52 538.25 153.20 536.90 C153.88 535.55 154.50 532.20 155.00 532.20 C155.50 532.20 155.82 535.22 156.20 536.90 C156.58 538.58 156.85 541.27 157.30 542.30 C157.75 543.33 158.63 542.97 158.90 543.10 Z" fill="#f4c4cc" stroke="none"/>
<path d="M135.40 543.10 C136.10 539.10 136.40 494.30 137.05 465.50 Q137.40 463.40 137.75 465.50 C139.40 494.30 139.30 524.20 139.50 530.20 C139.72 530.65 140.25 532.07 140.80 532.90 C141.35 533.73 142.02 534.20 142.80 535.20 C143.58 536.20 144.60 538.22 145.50 538.90 C146.40 539.58 147.30 539.07 148.20 539.30 C149.10 539.53 150.07 540.70 150.90 540.30 C151.73 539.90 152.52 538.25 153.20 536.90 C153.88 535.55 154.50 532.20 155.00 532.20 C155.50 532.20 155.82 535.22 156.20 536.90 C156.58 538.58 156.85 541.27 157.30 542.30 C157.75 543.33 158.63 542.97 158.90 543.10 " fill="none" stroke="#cf1038" stroke-width="1.15" stroke-linejoin="round"/>
<path d="M243.50 543.10 C244.30 539.10 244.60 494.30 245.45 465.50 Q245.80 463.40 246.15 465.50 C247.30 494.30 247.30 524.40 247.50 530.40 C247.75 531.17 248.18 533.95 249.00 535.00 C249.82 536.05 251.27 536.27 252.40 536.70 C253.53 537.13 254.75 537.53 255.80 537.60 C256.85 537.67 257.87 537.25 258.70 537.10 C259.53 536.95 260.23 537.53 260.80 536.70 C261.37 535.87 261.67 534.00 262.10 532.10 C262.53 530.20 262.93 525.30 263.40 525.30 C263.87 525.30 264.42 529.57 264.90 532.10 C265.38 534.63 265.70 538.75 266.30 540.50 C266.90 542.25 267.58 542.17 268.50 542.60 C269.42 543.03 269.97 543.02 271.80 543.10 C273.63 543.18 278.22 543.10 279.50 543.10 Z" fill="#f4c4cc" stroke="none"/>
<path d="M243.50 543.10 C244.30 539.10 244.60 494.30 245.45 465.50 Q245.80 463.40 246.15 465.50 C247.30 494.30 247.30 524.40 247.50 530.40 C247.75 531.17 248.18 533.95 249.00 535.00 C249.82 536.05 251.27 536.27 252.40 536.70 C253.53 537.13 254.75 537.53 255.80 537.60 C256.85 537.67 257.87 537.25 258.70 537.10 C259.53 536.95 260.23 537.53 260.80 536.70 C261.37 535.87 261.67 534.00 262.10 532.10 C262.53 530.20 262.93 525.30 263.40 525.30 C263.87 525.30 264.42 529.57 264.90 532.10 C265.38 534.63 265.70 538.75 266.30 540.50 C266.90 542.25 267.58 542.17 268.50 542.60 C269.42 543.03 269.97 543.02 271.80 543.10 C273.63 543.18 278.22 543.10 279.50 543.10 " fill="none" stroke="#cf1038" stroke-width="1.15" stroke-linejoin="round"/>
<text transform="translate(29.20 345.70) scale(0.555 1)" x="0" y="0" font-size="8.0" text-anchor="middle" fill="#222" stroke="#222" stroke-width="0.2">G0_G1</text>
<text transform="translate(29.20 353.20) scale(0.555 1)" x="0" y="0" font-size="8.0" text-anchor="middle" fill="#222" stroke="#222" stroke-width="0.2">69.5</text>
<line x1="26.20" y1="356.60" x2="32.30" y2="356.60" stroke="#222" stroke-width="0.9" />
<line x1="26.20" y1="355.30" x2="26.20" y2="357.90" stroke="#222" stroke-width="1.1" />
<line x1="32.30" y1="355.30" x2="32.30" y2="357.90" stroke="#222" stroke-width="1.1" />
<text transform="translate(37.20 386.10) scale(0.555 1)" x="0" y="0" font-size="8.0" text-anchor="middle" fill="#222" stroke="#222" stroke-width="0.2">S</text>
<text transform="translate(37.20 394.90) scale(0.555 1)" x="0" y="0" font-size="8.0" text-anchor="middle" fill="#222" stroke="#222" stroke-width="0.2">13.2</text>
<line x1="31.30" y1="398.10" x2="43.00" y2="398.10" stroke="#222" stroke-width="0.9" />
<line x1="31.30" y1="396.80" x2="31.30" y2="399.40" stroke="#222" stroke-width="1.1" />
<line x1="43.00" y1="396.80" x2="43.00" y2="399.40" stroke="#222" stroke-width="1.1" />
<text transform="translate(18.30 405.20) scale(0.555 1)" x="0" y="0" font-size="8.0" text-anchor="middle" fill="#222" stroke="#222" stroke-width="0.2">Sub G0</text>
<text transform="translate(18.30 413.40) scale(0.555 1)" x="0" y="0" font-size="8.0" text-anchor="middle" fill="#222" stroke="#222" stroke-width="0.2">1.44</text>
<line x1="10.90" y1="415.70" x2="26.50" y2="415.70" stroke="#222" stroke-width="0.9" />
<line x1="10.90" y1="414.40" x2="10.90" y2="417.00" stroke="#222" stroke-width="1.1" />
<line x1="26.50" y1="414.40" x2="26.50" y2="417.00" stroke="#222" stroke-width="1.1" />
<text transform="translate(47.00 413.40) scale(0.555 1)" x="0" y="0" font-size="8.0" text-anchor="middle" fill="#222" stroke="#222" stroke-width="0.2">G2_M</text>
<text transform="translate(47.00 421.80) scale(0.555 1)" x="0" y="0" font-size="8.0" text-anchor="middle" fill="#222" stroke="#222" stroke-width="0.2">14.5</text>
<line x1="42.40" y1="424.50" x2="50.80" y2="424.50" stroke="#222" stroke-width="0.9" />
<line x1="42.40" y1="423.20" x2="42.40" y2="425.80" stroke="#222" stroke-width="1.1" />
<line x1="50.80" y1="423.20" x2="50.80" y2="425.80" stroke="#222" stroke-width="1.1" />
<text transform="translate(136.60 338.30) scale(0.555 1)" x="0" y="0" font-size="8.0" text-anchor="middle" fill="#222" stroke="#222" stroke-width="0.2">G0_G1</text>
<text transform="translate(136.60 346.50) scale(0.555 1)" x="0" y="0" font-size="8.0" text-anchor="middle" fill="#222" stroke="#222" stroke-width="0.2">62.5</text>
<line x1="134.50" y1="349.40" x2="139.80" y2="349.40" stroke="#222" stroke-width="0.9" />
<line x1="134.50" y1="348.10" x2="134.50" y2="350.70" stroke="#222" stroke-width="1.1" />
<line x1="139.80" y1="348.10" x2="139.80" y2="350.70" stroke="#222" stroke-width="1.1" />
<text transform="translate(145.20 386.10) scale(0.555 1)" x="0" y="0" font-size="8.0" text-anchor="middle" fill="#222" stroke="#222" stroke-width="0.2">S</text>
<text transform="translate(145.20 394.90) scale(0.555 1)" x="0" y="0" font-size="8.0" text-anchor="middle" fill="#222" stroke="#222" stroke-width="0.2">19.8</text>
<line x1="140.40" y1="397.80" x2="151.70" y2="397.80" stroke="#222" stroke-width="0.9" />
<line x1="140.40" y1="396.50" x2="140.40" y2="399.10" stroke="#222" stroke-width="1.1" />
<line x1="151.70" y1="396.50" x2="151.70" y2="399.10" stroke="#222" stroke-width="1.1" />
<text transform="translate(126.10 401.30) scale(0.555 1)" x="0" y="0" font-size="8.0" text-anchor="middle" fill="#222" stroke="#222" stroke-width="0.2">Sub G0</text>
<text transform="translate(126.10 408.60) scale(0.555 1)" x="0" y="0" font-size="8.0" text-anchor="middle" fill="#222" stroke="#222" stroke-width="0.2">0.20</text>
<line x1="118.50" y1="410.80" x2="133.50" y2="410.80" stroke="#222" stroke-width="0.9" />
<line x1="118.50" y1="409.50" x2="118.50" y2="412.10" stroke="#222" stroke-width="1.1" />
<line x1="133.50" y1="409.50" x2="133.50" y2="412.10" stroke="#222" stroke-width="1.1" />
<text transform="translate(155.00 409.50) scale(0.555 1)" x="0" y="0" font-size="8.0" text-anchor="middle" fill="#222" stroke="#222" stroke-width="0.2">G2_M</text>
<text transform="translate(155.00 417.70) scale(0.555 1)" x="0" y="0" font-size="8.0" text-anchor="middle" fill="#222" stroke="#222" stroke-width="0.2">15.7</text>
<line x1="150.70" y1="420.00" x2="158.30" y2="420.00" stroke="#222" stroke-width="0.9" />
<line x1="150.70" y1="418.70" x2="150.70" y2="421.30" stroke="#222" stroke-width="1.1" />
<line x1="158.30" y1="418.70" x2="158.30" y2="421.30" stroke="#222" stroke-width="1.1" />
<text transform="translate(245.80 341.30) scale(0.555 1)" x="0" y="0" font-size="8.0" text-anchor="middle" fill="#222" stroke="#222" stroke-width="0.2">G0_G1</text>
<text transform="translate(245.80 349.10) scale(0.555 1)" x="0" y="0" font-size="8.0" text-anchor="middle" fill="#222" stroke="#222" stroke-width="0.2">64.1</text>
<line x1="243.50" y1="352.30" x2="248.30" y2="352.30" stroke="#222" stroke-width="0.9" />
<line x1="243.50" y1="351.00" x2="243.50" y2="353.60" stroke="#222" stroke-width="1.1" />
<line x1="248.30" y1="351.00" x2="248.30" y2="353.60" stroke="#222" stroke-width="1.1" />
<text transform="translate(254.80 378.30) scale(0.555 1)" x="0" y="0" font-size="8.0" text-anchor="middle" fill="#222" stroke="#222" stroke-width="0.2">S</text>
<text transform="translate(254.80 385.50) scale(0.555 1)" x="0" y="0" font-size="8.0" text-anchor="middle" fill="#222" stroke="#222" stroke-width="0.2">25.0</text>
<line x1="248.30" y1="388.40" x2="261.00" y2="388.40" stroke="#222" stroke-width="0.9" />
<line x1="248.30" y1="387.10" x2="248.30" y2="389.70" stroke="#222" stroke-width="1.1" />
<line x1="261.00" y1="387.10" x2="261.00" y2="389.70" stroke="#222" stroke-width="1.1" />
<text transform="translate(234.70 402.70) scale(0.555 1)" x="0" y="0" font-size="8.0" text-anchor="middle" fill="#222" stroke="#222" stroke-width="0.2">Sub G0</text>
<text transform="translate(234.70 411.90) scale(0.555 1)" x="0" y="0" font-size="8.0" text-anchor="middle" fill="#222" stroke="#222" stroke-width="0.2">0.29</text>
<line x1="226.90" y1="414.30" x2="242.50" y2="414.30" stroke="#222" stroke-width="0.9" />
<line x1="226.90" y1="413.00" x2="226.90" y2="415.60" stroke="#222" stroke-width="1.1" />
<line x1="242.50" y1="413.00" x2="242.50" y2="415.60" stroke="#222" stroke-width="1.1" />
<text transform="translate(263.90 409.50) scale(0.555 1)" x="0" y="0" font-size="8.0" text-anchor="middle" fill="#222" stroke="#222" stroke-width="0.2">G2_M</text>
<text transform="translate(263.90 417.70) scale(0.555 1)" x="0" y="0" font-size="8.0" text-anchor="middle" fill="#222" stroke="#222" stroke-width="0.2">13.2</text>
<line x1="259.40" y1="420.60" x2="268.80" y2="420.60" stroke="#222" stroke-width="0.9" />
<line x1="259.40" y1="419.30" x2="259.40" y2="421.90" stroke="#222" stroke-width="1.1" />
<line x1="268.80" y1="419.30" x2="268.80" y2="421.90" stroke="#222" stroke-width="1.1" />
<text transform="translate(28.80 462.00) scale(0.555 1)" x="0" y="0" font-size="8.0" text-anchor="middle" fill="#222" stroke="#222" stroke-width="0.2">G0_G1</text>
<text transform="translate(28.80 469.80) scale(0.555 1)" x="0" y="0" font-size="8.0" text-anchor="middle" fill="#222" stroke="#222" stroke-width="0.2">69.4</text>
<line x1="26.50" y1="472.50" x2="31.90" y2="472.50" stroke="#222" stroke-width="0.9" />
<line x1="26.50" y1="471.20" x2="26.50" y2="473.80" stroke="#222" stroke-width="1.1" />
<line x1="31.90" y1="471.20" x2="31.90" y2="473.80" stroke="#222" stroke-width="1.1" />
<text transform="translate(36.80 494.20) scale(0.555 1)" x="0" y="0" font-size="8.0" text-anchor="middle" fill="#222" stroke="#222" stroke-width="0.2">S</text>
<text transform="translate(36.80 502.00) scale(0.555 1)" x="0" y="0" font-size="8.0" text-anchor="middle" fill="#222" stroke="#222" stroke-width="0.2">8.70</text>
<line x1="31.30" y1="504.90" x2="42.40" y2="504.90" stroke="#222" stroke-width="0.9" />
<line x1="31.30" y1="503.60" x2="31.30" y2="506.20" stroke="#222" stroke-width="1.1" />
<line x1="42.40" y1="503.60" x2="42.40" y2="506.20" stroke="#222" stroke-width="1.1" />
<text transform="translate(18.70 511.20) scale(0.555 1)" x="0" y="0" font-size="8.0" text-anchor="middle" fill="#222" stroke="#222" stroke-width="0.2">Sub G0</text>
<text transform="translate(18.70 518.60) scale(0.555 1)" x="0" y="0" font-size="8.0" text-anchor="middle" fill="#222" stroke="#222" stroke-width="0.2">2.68</text>
<line x1="10.90" y1="521.20" x2="26.50" y2="521.20" stroke="#222" stroke-width="0.9" />
<line x1="10.90" y1="519.90" x2="10.90" y2="522.50" stroke="#222" stroke-width="1.1" />
<line x1="26.50" y1="519.90" x2="26.50" y2="522.50" stroke="#222" stroke-width="1.1" />
<text transform="translate(47.50 523.40) scale(0.555 1)" x="0" y="0" font-size="8.0" text-anchor="middle" fill="#222" stroke="#222" stroke-width="0.2">G2_M</text>
<text transform="translate(47.50 531.20) scale(0.555 1)" x="0" y="0" font-size="8.0" text-anchor="middle" fill="#222" stroke="#222" stroke-width="0.2">15.6</text>
<line x1="43.20" y1="534.50" x2="52.20" y2="534.50" stroke="#222" stroke-width="0.9" />
<line x1="43.20" y1="533.20" x2="43.20" y2="535.80" stroke="#222" stroke-width="1.1" />
<line x1="52.20" y1="533.20" x2="52.20" y2="535.80" stroke="#222" stroke-width="1.1" />
<text transform="translate(136.80 452.30) scale(0.555 1)" x="0" y="0" font-size="8.0" text-anchor="middle" fill="#222" stroke="#222" stroke-width="0.2">G0_G1</text>
<text transform="translate(136.80 460.10) scale(0.555 1)" x="0" y="0" font-size="8.0" text-anchor="middle" fill="#222" stroke="#222" stroke-width="0.2">55.1</text>
<line x1="134.10" y1="462.30" x2="140.00" y2="462.30" stroke="#222" stroke-width="0.9" />
<line x1="134.10" y1="461.00" x2="134.10" y2="463.60" stroke="#222" stroke-width="1.1" />
<line x1="140.00" y1="461.00" x2="140.00" y2="463.60" stroke="#222" stroke-width="1.1" />
<text transform="translate(145.20 486.40) scale(0.555 1)" x="0" y="0" font-size="8.0" text-anchor="middle" fill="#222" stroke="#222" stroke-width="0.2">S</text>
<text transform="translate(145.20 495.20) scale(0.555 1)" x="0" y="0" font-size="8.0" text-anchor="middle" fill="#222" stroke="#222" stroke-width="0.2">25.3</text>
<line x1="139.40" y1="498.40" x2="150.70" y2="498.40" stroke="#222" stroke-width="0.9" />
<line x1="139.40" y1="497.10" x2="139.40" y2="499.70" stroke="#222" stroke-width="1.1" />
<line x1="150.70" y1="497.10" x2="150.70" y2="499.70" stroke="#222" stroke-width="1.1" />
<text transform="translate(126.10 512.30) scale(0.555 1)" x="0" y="0" font-size="8.0" text-anchor="middle" fill="#222" stroke="#222" stroke-width="0.2">Sub G0</text>
<text transform="translate(126.10 520.50) scale(0.555 1)" x="0" y="0" font-size="8.0" text-anchor="middle" fill="#222" stroke="#222" stroke-width="0.2">0.37</text>
<line x1="118.50" y1="522.80" x2="133.90" y2="522.80" stroke="#222" stroke-width="0.9" />
<line x1="118.50" y1="521.50" x2="118.50" y2="524.10" stroke="#222" stroke-width="1.1" />
<line x1="133.90" y1="521.50" x2="133.90" y2="524.10" stroke="#222" stroke-width="1.1" />
<text transform="translate(155.00 518.20) scale(0.555 1)" x="0" y="0" font-size="8.0" text-anchor="middle" fill="#222" stroke="#222" stroke-width="0.2">G2_M</text>
<text transform="translate(155.00 526.40) scale(0.555 1)" x="0" y="0" font-size="8.0" text-anchor="middle" fill="#222" stroke="#222" stroke-width="0.2">17.0</text>
<line x1="151.10" y1="529.20" x2="158.90" y2="529.20" stroke="#222" stroke-width="0.9" />
<line x1="151.10" y1="527.90" x2="151.10" y2="530.50" stroke="#222" stroke-width="1.1" />
<line x1="158.90" y1="527.90" x2="158.90" y2="530.50" stroke="#222" stroke-width="1.1" />
<text transform="translate(245.80 452.60) scale(0.555 1)" x="0" y="0" font-size="8.0" text-anchor="middle" fill="#222" stroke="#222" stroke-width="0.2">G0_G1</text>
<text transform="translate(245.80 460.40) scale(0.555 1)" x="0" y="0" font-size="8.0" text-anchor="middle" fill="#222" stroke="#222" stroke-width="0.2">50.4</text>
<line x1="242.50" y1="463.70" x2="248.30" y2="463.70" stroke="#222" stroke-width="0.9" />
<line x1="242.50" y1="462.40" x2="242.50" y2="465.00" stroke="#222" stroke-width="1.1" />
<line x1="248.30" y1="462.40" x2="248.30" y2="465.00" stroke="#222" stroke-width="1.1" />
<text transform="translate(254.80 493.80) scale(0.555 1)" x="0" y="0" font-size="8.0" text-anchor="middle" fill="#222" stroke="#222" stroke-width="0.2">S</text>
<text transform="translate(254.80 502.00) scale(0.555 1)" x="0" y="0" font-size="8.0" text-anchor="middle" fill="#222" stroke="#222" stroke-width="0.2">22.9</text>
<line x1="249.30" y1="504.90" x2="260.00" y2="504.90" stroke="#222" stroke-width="0.9" />
<line x1="249.30" y1="503.60" x2="249.30" y2="506.20" stroke="#222" stroke-width="1.1" />
<line x1="260.00" y1="503.60" x2="260.00" y2="506.20" stroke="#222" stroke-width="1.1" />
<text transform="translate(234.70 505.30) scale(0.555 1)" x="0" y="0" font-size="8.0" text-anchor="middle" fill="#222" stroke="#222" stroke-width="0.2">Sub G0</text>
<text transform="translate(234.70 513.10) scale(0.555 1)" x="0" y="0" font-size="8.0" text-anchor="middle" fill="#222" stroke="#222" stroke-width="0.2">0.39</text>
<line x1="226.90" y1="516.00" x2="242.50" y2="516.00" stroke="#222" stroke-width="0.9" />
<line x1="226.90" y1="514.70" x2="226.90" y2="517.30" stroke="#222" stroke-width="1.1" />
<line x1="242.50" y1="514.70" x2="242.50" y2="517.30" stroke="#222" stroke-width="1.1" />
<text transform="translate(264.50 513.70) scale(0.555 1)" x="0" y="0" font-size="8.0" text-anchor="middle" fill="#222" stroke="#222" stroke-width="0.2">G2_M</text>
<text transform="translate(264.50 522.10) scale(0.555 1)" x="0" y="0" font-size="8.0" text-anchor="middle" fill="#222" stroke="#222" stroke-width="0.2">23.7</text>
<line x1="259.60" y1="524.70" x2="269.40" y2="524.70" stroke="#222" stroke-width="0.9" />
<line x1="259.60" y1="523.40" x2="259.60" y2="526.00" stroke="#222" stroke-width="1.1" />
<line x1="269.40" y1="523.40" x2="269.40" y2="526.00" stroke="#222" stroke-width="1.1" />
<text x="332.30" y="383.00" font-size="8.3" text-anchor="start" fill="#111" >wtLCP1</text>
<text x="332.30" y="494.40" font-size="8.3" text-anchor="start" fill="#111" >I232F</text>
<text x="7.60" y="556.80" font-size="8.6" text-anchor="start" fill="#111" >Propidium iodide</text>
<text x="447.50" y="320.60" font-size="9.2" text-anchor="middle" fill="#111" font-weight="bold" >G2M</text>
<text x="447.70" y="332.60" font-size="8.7" text-anchor="middle" fill="#111" >0 hr</text>
<line x1="419.60" y1="339.40" x2="419.60" y2="418.20" stroke="#1a1a1a" stroke-width="1" />
<line x1="416.40" y1="417.70" x2="419.60" y2="417.70" stroke="#1a1a1a" stroke-width="0.9" />
<text x="413.40" y="420.30" font-size="7.3" text-anchor="end" fill="#222" >0</text>
<line x1="416.40" y1="402.90" x2="419.60" y2="402.90" stroke="#1a1a1a" stroke-width="0.9" />
<text x="413.40" y="405.50" font-size="7.3" text-anchor="end" fill="#222" >5</text>
<line x1="416.40" y1="388.10" x2="419.60" y2="388.10" stroke="#1a1a1a" stroke-width="0.9" />
<text x="413.40" y="390.70" font-size="7.3" text-anchor="end" fill="#222" >10</text>
<line x1="416.40" y1="373.30" x2="419.60" y2="373.30" stroke="#1a1a1a" stroke-width="0.9" />
<text x="413.40" y="375.90" font-size="7.3" text-anchor="end" fill="#222" >15</text>
<line x1="416.40" y1="358.50" x2="419.60" y2="358.50" stroke="#1a1a1a" stroke-width="0.9" />
<text x="413.40" y="361.10" font-size="7.3" text-anchor="end" fill="#222" >20</text>
<line x1="416.40" y1="343.70" x2="419.60" y2="343.70" stroke="#1a1a1a" stroke-width="0.9" />
<text x="413.40" y="346.30" font-size="7.3" text-anchor="end" fill="#222" >25</text>
<text x="399.6" y="381.70" font-size="9" text-anchor="middle" fill="#1a1a1a" stroke="#1a1a1a" stroke-width="0.3" textLength="27" lengthAdjust="spacingAndGlyphs" transform="rotate(-90 399.6 381.70)">% of cells</text>
<rect x="427.80" y="391.06" width="12.4" height="26.64" fill="#82a5c9"/>
<rect x="455.15" y="390.47" width="12.4" height="27.23" fill="#e5899c"/>
<line x1="419.10" y1="417.70" x2="476.00" y2="417.70" stroke="#333" stroke-width="1.2" />
<circle cx="434.00" cy="376.26" r="1.4" fill="#1d4f91"/>
<circle cx="434.00" cy="396.09" r="1.4" fill="#1d4f91"/>
<circle cx="434.00" cy="399.35" r="1.4" fill="#1d4f91"/>
<line x1="434.00" y1="398.61" x2="434.00" y2="383.51" stroke="#1a1a1a" stroke-width="0.9" />
<line x1="432.40" y1="383.51" x2="435.60" y2="383.51" stroke="#1a1a1a" stroke-width="0.9" />
<line x1="432.40" y1="398.61" x2="435.60" y2="398.61" stroke="#1a1a1a" stroke-width="0.9" />
<line x1="434.00" y1="417.70" x2="434.00" y2="420.10" stroke="#1a1a1a" stroke-width="0.9" />
<circle cx="461.35" cy="376.85" r="1.4" fill="#cc1030"/>
<circle cx="459.15" cy="395.80" r="1.4" fill="#cc1030"/>
<circle cx="463.55" cy="395.80" r="1.4" fill="#cc1030"/>
<line x1="461.35" y1="397.42" x2="461.35" y2="383.51" stroke="#1a1a1a" stroke-width="0.9" />
<line x1="459.75" y1="383.51" x2="462.95" y2="383.51" stroke="#1a1a1a" stroke-width="0.9" />
<line x1="459.75" y1="397.42" x2="462.95" y2="397.42" stroke="#1a1a1a" stroke-width="0.9" />
<line x1="461.35" y1="417.70" x2="461.35" y2="420.10" stroke="#1a1a1a" stroke-width="0.9" />
<text x="433.80" y="429.60" font-size="7.3" text-anchor="middle" fill="#222" >wtLCP1</text>
<text x="461.30" y="429.60" font-size="7.3" text-anchor="middle" fill="#222" >I232F</text>
<text x="447.70" y="459.00" font-size="8.7" text-anchor="middle" fill="#111" >48 hr</text>
<line x1="419.60" y1="465.60" x2="419.60" y2="544.00" stroke="#1a1a1a" stroke-width="1" />
<line x1="416.40" y1="543.50" x2="419.60" y2="543.50" stroke="#1a1a1a" stroke-width="0.9" />
<text x="413.40" y="546.10" font-size="7.3" text-anchor="end" fill="#222" >0</text>
<line x1="416.40" y1="528.64" x2="419.60" y2="528.64" stroke="#1a1a1a" stroke-width="0.9" />
<text x="413.40" y="531.24" font-size="7.3" text-anchor="end" fill="#222" >5</text>
<line x1="416.40" y1="513.78" x2="419.60" y2="513.78" stroke="#1a1a1a" stroke-width="0.9" />
<text x="413.40" y="516.38" font-size="7.3" text-anchor="end" fill="#222" >10</text>
<line x1="416.40" y1="498.92" x2="419.60" y2="498.92" stroke="#1a1a1a" stroke-width="0.9" />
<text x="413.40" y="501.52" font-size="7.3" text-anchor="end" fill="#222" >15</text>
<line x1="416.40" y1="484.06" x2="419.60" y2="484.06" stroke="#1a1a1a" stroke-width="0.9" />
<text x="413.40" y="486.66" font-size="7.3" text-anchor="end" fill="#222" >20</text>
<line x1="416.40" y1="469.20" x2="419.60" y2="469.20" stroke="#1a1a1a" stroke-width="0.9" />
<text x="413.40" y="471.80" font-size="7.3" text-anchor="end" fill="#222" >25</text>
<text x="399.6" y="507.35" font-size="9" text-anchor="middle" fill="#1a1a1a" stroke="#1a1a1a" stroke-width="0.3" textLength="27" lengthAdjust="spacingAndGlyphs" transform="rotate(-90 399.6 507.35)">% of cells</text>
<rect x="427.80" y="504.86" width="12.4" height="38.64" fill="#82a5c9"/>
<rect x="455.15" y="484.65" width="12.4" height="58.85" fill="#e5899c"/>
<line x1="419.10" y1="543.50" x2="476.00" y2="543.50" stroke="#333" stroke-width="1.2" />
<circle cx="434.00" cy="499.51" r="1.4" fill="#1d4f91"/>
<circle cx="434.00" cy="503.08" r="1.4" fill="#1d4f91"/>
<circle cx="434.00" cy="507.24" r="1.4" fill="#1d4f91"/>
<circle cx="434.00" cy="508.43" r="1.4" fill="#1d4f91"/>
<line x1="434.00" y1="508.13" x2="434.00" y2="501.59" stroke="#1a1a1a" stroke-width="0.9" />
<line x1="432.40" y1="501.59" x2="435.60" y2="501.59" stroke="#1a1a1a" stroke-width="0.9" />
<line x1="432.40" y1="508.13" x2="435.60" y2="508.13" stroke="#1a1a1a" stroke-width="0.9" />
<line x1="434.00" y1="543.50" x2="434.00" y2="545.90" stroke="#1a1a1a" stroke-width="0.9" />
<circle cx="459.15" cy="480.49" r="1.4" fill="#cc1030"/>
<circle cx="463.55" cy="481.09" r="1.4" fill="#cc1030"/>
<circle cx="461.35" cy="487.03" r="1.4" fill="#cc1030"/>
<circle cx="461.35" cy="489.11" r="1.4" fill="#cc1030"/>
<line x1="461.35" y1="487.03" x2="461.35" y2="482.28" stroke="#1a1a1a" stroke-width="0.9" />
<line x1="459.75" y1="482.28" x2="462.95" y2="482.28" stroke="#1a1a1a" stroke-width="0.9" />
<line x1="459.75" y1="487.03" x2="462.95" y2="487.03" stroke="#1a1a1a" stroke-width="0.9" />
<line x1="461.35" y1="543.50" x2="461.35" y2="545.90" stroke="#1a1a1a" stroke-width="0.9" />
<text x="433.80" y="555.40" font-size="7.3" text-anchor="middle" fill="#222" >wtLCP1</text>
<text x="461.30" y="555.40" font-size="7.3" text-anchor="middle" fill="#222" >I232F</text>
<line x1="428.20" y1="473.90" x2="465.60" y2="473.90" stroke="#333" stroke-width="1.0" />
<line x1="428.20" y1="472.50" x2="428.20" y2="475.30" stroke="#333" stroke-width="1.0" />
<line x1="465.60" y1="472.50" x2="465.60" y2="475.30" stroke="#333" stroke-width="1.0" />
<circle cx="446.6" cy="469.30" r="0.85" fill="#333"/>
<rect x="0.5" y="0.5" width="519" height="563" fill="none" stroke="#000" stroke-width="1"/>
</svg>
</body></html>
